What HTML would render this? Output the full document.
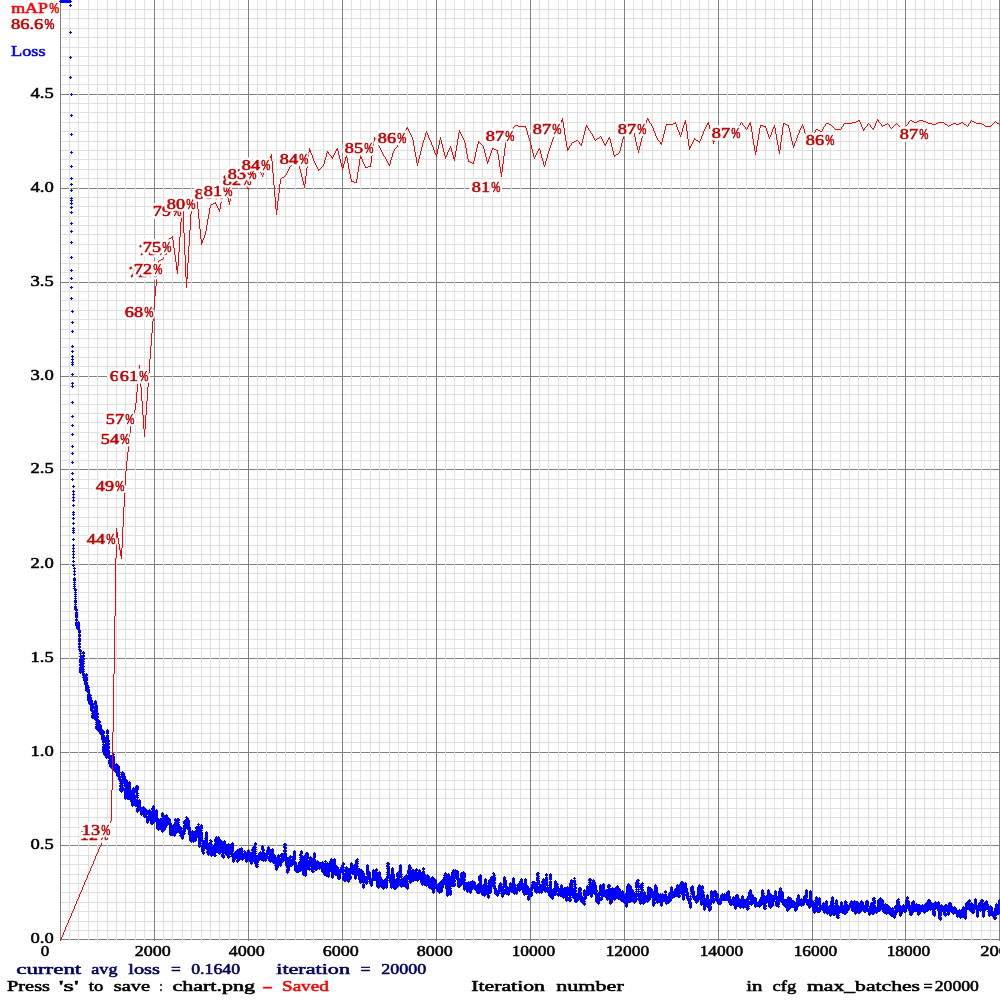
<!DOCTYPE html><html><head><meta charset="utf-8"><title>chart</title><style>html,body{margin:0;padding:0;background:#fff}svg{display:block}</style></head><body><svg width="1000" height="1000" viewBox="0 0 1000 1000" shape-rendering="crispEdges"><rect width="1000" height="1000" fill="#fff"/>
<path fill="#e0e0e0" d="M60 9h940v1h-940zM60 18h940v1h-940zM60 28h940v1h-940zM60 37h940v1h-940zM60 47h940v1h-940zM60 56h940v1h-940zM60 65h940v1h-940zM60 75h940v1h-940zM60 84h940v1h-940zM60 103h940v1h-940zM60 112h940v1h-940zM60 122h940v1h-940zM60 131h940v1h-940zM60 141h940v1h-940zM60 150h940v1h-940zM60 159h940v1h-940zM60 169h940v1h-940zM60 178h940v1h-940zM60 197h940v1h-940zM60 206h940v1h-940zM60 216h940v1h-940zM60 225h940v1h-940zM60 234h940v1h-940zM60 244h940v1h-940zM60 253h940v1h-940zM60 263h940v1h-940zM60 272h940v1h-940zM60 291h940v1h-940zM60 300h940v1h-940zM60 310h940v1h-940zM60 319h940v1h-940zM60 329h940v1h-940zM60 338h940v1h-940zM60 347h940v1h-940zM60 357h940v1h-940zM60 366h940v1h-940zM60 385h940v1h-940zM60 394h940v1h-940zM60 404h940v1h-940zM60 413h940v1h-940zM60 422h940v1h-940zM60 432h940v1h-940zM60 441h940v1h-940zM60 451h940v1h-940zM60 460h940v1h-940zM60 479h940v1h-940zM60 488h940v1h-940zM60 498h940v1h-940zM60 507h940v1h-940zM60 517h940v1h-940zM60 526h940v1h-940zM60 535h940v1h-940zM60 545h940v1h-940zM60 554h940v1h-940zM60 573h940v1h-940zM60 582h940v1h-940zM60 592h940v1h-940zM60 601h940v1h-940zM60 611h940v1h-940zM60 620h940v1h-940zM60 629h940v1h-940zM60 639h940v1h-940zM60 648h940v1h-940zM60 667h940v1h-940zM60 676h940v1h-940zM60 686h940v1h-940zM60 695h940v1h-940zM60 705h940v1h-940zM60 714h940v1h-940zM60 723h940v1h-940zM60 733h940v1h-940zM60 742h940v1h-940zM60 761h940v1h-940zM60 770h940v1h-940zM60 780h940v1h-940zM60 789h940v1h-940zM60 798h940v1h-940zM60 808h940v1h-940zM60 817h940v1h-940zM60 827h940v1h-940zM60 836h940v1h-940zM60 855h940v1h-940zM60 864h940v1h-940zM60 874h940v1h-940zM60 883h940v1h-940zM60 892h940v1h-940zM60 902h940v1h-940zM60 911h940v1h-940zM60 921h940v1h-940zM60 930h940v1h-940z"/>
<path fill="#808080" d="M60 94h940v1h-940zM60 188h940v1h-940zM60 282h940v1h-940zM60 376h940v1h-940zM60 469h940v1h-940zM60 564h940v1h-940zM60 658h940v1h-940zM60 752h940v1h-940zM60 845h940v1h-940zM60 939h940v1h-940z"/>
<path fill="#e0e0e0" d="M69 0h1v941h-1zM78 0h1v941h-1zM88 0h1v941h-1zM97 0h1v941h-1zM107 0h1v941h-1zM116 0h1v941h-1zM125 0h1v941h-1zM135 0h1v941h-1zM144 0h1v941h-1zM163 0h1v941h-1zM172 0h1v941h-1zM182 0h1v941h-1zM191 0h1v941h-1zM201 0h1v941h-1zM210 0h1v941h-1zM219 0h1v941h-1zM229 0h1v941h-1zM238 0h1v941h-1zM257 0h1v941h-1zM266 0h1v941h-1zM276 0h1v941h-1zM285 0h1v941h-1zM295 0h1v941h-1zM304 0h1v941h-1zM313 0h1v941h-1zM323 0h1v941h-1zM332 0h1v941h-1zM351 0h1v941h-1zM360 0h1v941h-1zM370 0h1v941h-1zM379 0h1v941h-1zM389 0h1v941h-1zM398 0h1v941h-1zM407 0h1v941h-1zM417 0h1v941h-1zM426 0h1v941h-1zM445 0h1v941h-1zM454 0h1v941h-1zM464 0h1v941h-1zM473 0h1v941h-1zM482 0h1v941h-1zM492 0h1v941h-1zM501 0h1v941h-1zM511 0h1v941h-1zM520 0h1v941h-1zM539 0h1v941h-1zM548 0h1v941h-1zM558 0h1v941h-1zM567 0h1v941h-1zM577 0h1v941h-1zM586 0h1v941h-1zM595 0h1v941h-1zM605 0h1v941h-1zM614 0h1v941h-1zM633 0h1v941h-1zM642 0h1v941h-1zM652 0h1v941h-1zM661 0h1v941h-1zM671 0h1v941h-1zM680 0h1v941h-1zM689 0h1v941h-1zM699 0h1v941h-1zM708 0h1v941h-1zM727 0h1v941h-1zM736 0h1v941h-1zM746 0h1v941h-1zM755 0h1v941h-1zM765 0h1v941h-1zM774 0h1v941h-1zM783 0h1v941h-1zM793 0h1v941h-1zM802 0h1v941h-1zM821 0h1v941h-1zM830 0h1v941h-1zM840 0h1v941h-1zM849 0h1v941h-1zM858 0h1v941h-1zM868 0h1v941h-1zM877 0h1v941h-1zM887 0h1v941h-1zM896 0h1v941h-1zM915 0h1v941h-1zM924 0h1v941h-1zM934 0h1v941h-1zM943 0h1v941h-1zM952 0h1v941h-1zM962 0h1v941h-1zM971 0h1v941h-1zM981 0h1v941h-1zM990 0h1v941h-1z"/>
<path fill="#808080" d="M60 0h1v941h-1zM154 0h1v941h-1zM248 0h1v941h-1zM342 0h1v941h-1zM436 0h1v941h-1zM530 0h1v941h-1zM624 0h1v941h-1zM718 0h1v941h-1zM812 0h1v941h-1zM905 0h1v941h-1zM999 0h1v941h-1z"/>
<g font-family="'Liberation Serif',serif" font-size="15px" stroke-width=".55" stroke-linejoin="round"><text x="30.5" y="98" fill="#000" stroke="#000" textLength="23.2" lengthAdjust="spacingAndGlyphs" font-size="15.5px">4.5</text><text x="30.5" y="192" fill="#000" stroke="#000" textLength="23.2" lengthAdjust="spacingAndGlyphs" font-size="15.5px">4.0</text><text x="30.5" y="286" fill="#000" stroke="#000" textLength="23.2" lengthAdjust="spacingAndGlyphs" font-size="15.5px">3.5</text><text x="30.5" y="380" fill="#000" stroke="#000" textLength="23.2" lengthAdjust="spacingAndGlyphs" font-size="15.5px">3.0</text><text x="30.5" y="473" fill="#000" stroke="#000" textLength="23.2" lengthAdjust="spacingAndGlyphs" font-size="15.5px">2.5</text><text x="30.5" y="568" fill="#000" stroke="#000" textLength="23.2" lengthAdjust="spacingAndGlyphs" font-size="15.5px">2.0</text><text x="30.5" y="662" fill="#000" stroke="#000" textLength="23.2" lengthAdjust="spacingAndGlyphs" font-size="15.5px">1.5</text><text x="30.5" y="756" fill="#000" stroke="#000" textLength="23.2" lengthAdjust="spacingAndGlyphs" font-size="15.5px">1.0</text><text x="30.5" y="849" fill="#000" stroke="#000" textLength="23.2" lengthAdjust="spacingAndGlyphs" font-size="15.5px">0.5</text><text x="30.5" y="943" fill="#000" stroke="#000" textLength="23.2" lengthAdjust="spacingAndGlyphs" font-size="15.5px">0.0</text><text x="40.8" y="956" fill="#000" stroke="#000" textLength="8.5" lengthAdjust="spacingAndGlyphs" font-size="15.5px">0</text><text x="134.7" y="956" fill="#000" stroke="#000" textLength="36" lengthAdjust="spacingAndGlyphs" font-size="15.5px">2000</text><text x="228.7" y="956" fill="#000" stroke="#000" textLength="36" lengthAdjust="spacingAndGlyphs" font-size="15.5px">4000</text><text x="322.7" y="956" fill="#000" stroke="#000" textLength="36" lengthAdjust="spacingAndGlyphs" font-size="15.5px">6000</text><text x="416.7" y="956" fill="#000" stroke="#000" textLength="36" lengthAdjust="spacingAndGlyphs" font-size="15.5px">8000</text><text x="511.7" y="956" fill="#000" stroke="#000" textLength="43.4" lengthAdjust="spacingAndGlyphs" font-size="15.5px">10000</text><text x="605.7" y="956" fill="#000" stroke="#000" textLength="43.4" lengthAdjust="spacingAndGlyphs" font-size="15.5px">12000</text><text x="699.7" y="956" fill="#000" stroke="#000" textLength="43.4" lengthAdjust="spacingAndGlyphs" font-size="15.5px">14000</text><text x="793.7" y="956" fill="#000" stroke="#000" textLength="43.4" lengthAdjust="spacingAndGlyphs" font-size="15.5px">16000</text><text x="886.7" y="956" fill="#000" stroke="#000" textLength="43.4" lengthAdjust="spacingAndGlyphs" font-size="15.5px">18000</text><text x="980.2" y="956" fill="#000" stroke="#000" textLength="46.5" lengthAdjust="spacingAndGlyphs" font-size="15.5px">20000</text><text y="13" fill="#ff0000" stroke="#ff0000"><tspan x="11.2" textLength="36.8" lengthAdjust="spacingAndGlyphs">mAP</tspan><tspan x="49.2" textLength="10" lengthAdjust="spacingAndGlyphs">%</tspan></text><text x="11" y="56" fill="#0000ff" stroke="#0000ff" textLength="34.5" lengthAdjust="spacingAndGlyphs">Loss</text><text y="974" fill="#000064" stroke="#000064"><tspan x="16.25" textLength="65.0" lengthAdjust="spacingAndGlyphs">current</tspan> <tspan x="91.25" textLength="26.25" lengthAdjust="spacingAndGlyphs">avg</tspan> <tspan x="128.25" textLength="31.75" lengthAdjust="spacingAndGlyphs">loss</tspan> <tspan x="171" textLength="9.8" lengthAdjust="spacingAndGlyphs">=</tspan> <tspan x="191.25" textLength="48.75" lengthAdjust="spacingAndGlyphs">0.1640</tspan> <tspan x="276.25" textLength="73.75" lengthAdjust="spacingAndGlyphs">iteration</tspan> <tspan x="360.5" textLength="10.0" lengthAdjust="spacingAndGlyphs">=</tspan> <tspan x="381.25" textLength="45.0" lengthAdjust="spacingAndGlyphs">20000</tspan></text><text y="991" fill="#000" stroke="#000"><tspan x="7" textLength="43" lengthAdjust="spacingAndGlyphs">Press</tspan> <tspan x="58.75" textLength="20.0" lengthAdjust="spacingAndGlyphs">'s'</tspan> <tspan x="88.75" textLength="14.5" lengthAdjust="spacingAndGlyphs">to</tspan> <tspan x="113.75" textLength="36.25" lengthAdjust="spacingAndGlyphs">save</tspan> <tspan x="159.5" textLength="3.0" lengthAdjust="spacingAndGlyphs">:</tspan> <tspan x="172.5" textLength="82.5" lengthAdjust="spacingAndGlyphs">chart.png</tspan></text><text y="991" fill="#ff0000" stroke="#ff0000"><tspan x="262.5" textLength="10" lengthAdjust="spacingAndGlyphs">-</tspan> <tspan x="282" textLength="46.75" lengthAdjust="spacingAndGlyphs">Saved</tspan></text><text y="991" fill="#000" stroke="#000"><tspan x="471.25" textLength="73.75" lengthAdjust="spacingAndGlyphs">Iteration</tspan> <tspan x="556.25" textLength="67.5" lengthAdjust="spacingAndGlyphs">number</tspan></text><text y="991" fill="#000" stroke="#000"><tspan x="746.25" textLength="16.25" lengthAdjust="spacingAndGlyphs">in</tspan> <tspan x="772.5" textLength="23.75" lengthAdjust="spacingAndGlyphs">cfg</tspan> <tspan x="807" textLength="113" lengthAdjust="spacingAndGlyphs">max_batches</tspan><tspan x="923.5" textLength="9.2" lengthAdjust="spacingAndGlyphs">=</tspan><tspan x="934.8" textLength="44.1" lengthAdjust="spacingAndGlyphs">20000</tspan></text></g>
<path fill="#0000ff" d="M59 1h1v1h-1zM60 0h1v3h-1zM61 0h1v3h-1zM62 0h1v3h-1zM63 0h1v3h-1zM64 0h1v3h-1zM65 0h1v3h-1zM66 0h1v3h-1zM67 0h1v3h-1zM68 0h1v3h-1zM69 0h1v3h-1zM69 5h1v1h-1zM69 32h1v1h-1zM69 57h1v1h-1zM69 77h1v1h-1zM70 0h1v3h-1zM70 4h1v3h-1zM70 31h1v3h-1zM70 56h1v3h-1zM70 76h1v3h-1zM70 94h1v1h-1zM70 115h1v1h-1zM70 134h1v1h-1zM70 152h1v1h-1zM70 166h1v1h-1zM70 178h1v1h-1zM70 184h1v1h-1zM70 190h1v1h-1zM70 198h1v1h-1zM70 200h1v1h-1zM70 203h1v1h-1zM70 207h1v1h-1zM70 212h1v1h-1zM70 223h1v1h-1zM70 231h1v1h-1zM70 242h1v1h-1zM70 257h1v1h-1zM70 270h1v1h-1zM70 278h1v1h-1zM70 287h1v1h-1zM70 298h1v1h-1zM71 1h1v1h-1zM71 5h1v1h-1zM71 32h1v1h-1zM71 57h1v1h-1zM71 77h1v1h-1zM71 93h1v3h-1zM71 114h1v3h-1zM71 133h1v3h-1zM71 151h1v3h-1zM71 165h1v3h-1zM71 177h1v3h-1zM71 183h1v3h-1zM71 189h1v3h-1zM71 197h1v8h-1zM71 206h1v3h-1zM71 211h1v3h-1zM71 222h1v3h-1zM71 230h1v3h-1zM71 241h1v3h-1zM71 256h1v3h-1zM71 269h1v3h-1zM71 277h1v3h-1zM71 286h1v3h-1zM71 297h1v3h-1zM71 311h1v1h-1zM71 322h1v1h-1zM71 331h1v1h-1zM71 346h1v1h-1zM71 351h1v1h-1zM71 356h1v1h-1zM71 359h1v1h-1zM71 362h1v1h-1zM71 364h1v1h-1zM71 374h1v1h-1zM71 383h1v1h-1zM71 386h1v1h-1zM71 402h1v1h-1zM71 416h1v1h-1zM71 425h1v1h-1zM71 434h1v1h-1zM71 446h1v1h-1zM71 453h1v1h-1zM71 462h1v1h-1zM71 473h1v1h-1zM71 479h1v1h-1zM72 94h1v1h-1zM72 115h1v1h-1zM72 134h1v1h-1zM72 152h1v1h-1zM72 166h1v1h-1zM72 178h1v1h-1zM72 184h1v1h-1zM72 190h1v1h-1zM72 198h1v1h-1zM72 200h1v1h-1zM72 203h1v1h-1zM72 207h1v1h-1zM72 212h1v1h-1zM72 223h1v1h-1zM72 231h1v1h-1zM72 242h1v1h-1zM72 257h1v1h-1zM72 270h1v1h-1zM72 278h1v1h-1zM72 287h1v1h-1zM72 298h1v1h-1zM72 310h1v3h-1zM72 321h1v3h-1zM72 330h1v3h-1zM72 345h1v3h-1zM72 350h1v3h-1zM72 355h1v11h-1zM72 373h1v3h-1zM72 382h1v6h-1zM72 401h1v3h-1zM72 415h1v3h-1zM72 424h1v3h-1zM72 433h1v3h-1zM72 445h1v3h-1zM72 452h1v3h-1zM72 461h1v3h-1zM72 472h1v3h-1zM72 478h1v3h-1zM72 486h1v1h-1zM72 491h1v1h-1zM72 494h1v1h-1zM72 497h1v1h-1zM72 500h1v1h-1zM72 505h1v1h-1zM72 512h1v1h-1zM72 514h1v1h-1zM72 518h1v1h-1zM72 523h1v1h-1zM72 528h1v1h-1zM72 530h1v1h-1zM72 532h1v1h-1zM72 539h1v1h-1zM72 545h1v1h-1zM72 548h1v1h-1zM72 551h1v1h-1zM72 554h1v1h-1zM72 557h1v1h-1zM72 561h1v1h-1zM72 565h1v1h-1zM73 311h1v1h-1zM73 322h1v1h-1zM73 331h1v1h-1zM73 346h1v1h-1zM73 351h1v1h-1zM73 356h1v1h-1zM73 359h1v1h-1zM73 362h1v1h-1zM73 364h1v1h-1zM73 374h1v1h-1zM73 383h1v1h-1zM73 386h1v1h-1zM73 402h1v1h-1zM73 416h1v1h-1zM73 425h1v1h-1zM73 434h1v1h-1zM73 446h1v1h-1zM73 453h1v1h-1zM73 462h1v1h-1zM73 473h1v1h-1zM73 479h1v1h-1zM73 485h1v3h-1zM73 490h1v12h-1zM73 504h1v3h-1zM73 511h1v5h-1zM73 517h1v3h-1zM73 522h1v3h-1zM73 527h1v7h-1zM73 538h1v3h-1zM73 544h1v15h-1zM73 560h1v3h-1zM73 564h1v3h-1zM73 568h1v1h-1zM73 571h1v1h-1zM73 574h1v1h-1zM73 578h1v3h-1zM73 582h1v1h-1zM73 584h1v1h-1zM73 586h1v1h-1zM73 588h1v1h-1zM74 486h1v1h-1zM74 491h1v1h-1zM74 494h1v1h-1zM74 497h1v1h-1zM74 500h1v1h-1zM74 505h1v1h-1zM74 512h1v1h-1zM74 514h1v1h-1zM74 518h1v1h-1zM74 523h1v1h-1zM74 528h1v1h-1zM74 530h1v1h-1zM74 532h1v1h-1zM74 539h1v1h-1zM74 545h1v1h-1zM74 548h1v1h-1zM74 551h1v1h-1zM74 554h1v1h-1zM74 557h1v1h-1zM74 561h1v1h-1zM74 565h1v1h-1zM74 567h1v9h-1zM74 577h1v14h-1zM74 592h1v1h-1zM74 594h1v1h-1zM74 596h1v1h-1zM74 598h1v1h-1zM74 600h1v3h-1zM74 604h1v1h-1zM74 606h1v4h-1zM75 568h1v1h-1zM75 571h1v1h-1zM75 574h1v1h-1zM75 578h1v3h-1zM75 582h1v1h-1zM75 584h1v1h-1zM75 586h1v1h-1zM75 588h1v23h-1zM75 612h1v6h-1zM75 619h1v2h-1zM75 622h1v4h-1zM76 589h1v2h-1zM76 592h1v1h-1zM76 594h1v1h-1zM76 596h1v1h-1zM76 598h1v1h-1zM76 600h1v3h-1zM76 604h1v1h-1zM76 606h1v23h-1zM77 609h1v2h-1zM77 612h1v6h-1zM77 619h1v2h-1zM77 622h1v8h-1zM78 621h1v12h-1zM78 634h1v3h-1zM78 638h1v4h-1zM78 643h1v2h-1zM78 646h1v2h-1zM78 649h1v1h-1zM79 622h1v30h-1zM79 653h1v1h-1zM79 656h1v1h-1zM79 659h1v4h-1zM79 664h1v2h-1zM79 667h1v6h-1zM80 630h1v3h-1zM80 634h1v3h-1zM80 638h1v4h-1zM80 643h1v2h-1zM80 646h1v2h-1zM80 649h1v25h-1zM81 650h1v2h-1zM81 653h1v1h-1zM81 655h1v18h-1zM82 652h1v2h-1zM82 655h1v21h-1zM82 677h1v1h-1zM83 651h1v30h-1zM84 652h1v2h-1zM84 655h1v2h-1zM84 658h1v2h-1zM84 661h1v1h-1zM84 663h1v1h-1zM84 666h1v1h-1zM84 669h1v1h-1zM84 671h1v1h-1zM84 673h1v12h-1zM85 674h1v17h-1zM86 673h1v19h-1zM87 674h1v2h-1zM87 677h1v4h-1zM87 682h1v11h-1zM87 694h1v7h-1zM88 685h1v19h-1zM89 687h1v1h-1zM89 689h1v16h-1zM90 694h1v17h-1zM91 695h1v1h-1zM91 697h1v15h-1zM91 713h1v1h-1zM91 715h1v3h-1zM92 700h1v19h-1zM93 703h1v6h-1zM93 710h1v9h-1zM94 701h1v4h-1zM94 706h1v14h-1zM95 700h1v21h-1zM95 722h1v1h-1zM95 724h1v1h-1zM95 726h1v3h-1zM96 701h1v29h-1zM97 705h1v26h-1zM98 713h1v2h-1zM98 716h1v2h-1zM98 719h1v13h-1zM99 720h1v14h-1zM100 721h1v2h-1zM100 724h1v11h-1zM101 725h1v15h-1zM102 729h1v14h-1zM102 744h1v1h-1zM102 746h1v6h-1zM103 730h1v25h-1zM104 731h1v3h-1zM104 735h1v8h-1zM104 744h1v12h-1zM105 737h1v21h-1zM106 730h1v4h-1zM106 735h1v24h-1zM107 729h1v29h-1zM108 730h1v4h-1zM108 735h1v24h-1zM108 760h1v4h-1zM109 740h1v2h-1zM109 743h1v2h-1zM109 746h1v3h-1zM109 750h1v17h-1zM110 755h1v13h-1zM111 755h1v14h-1zM112 754h1v1h-1zM112 756h1v14h-1zM113 753h1v18h-1zM114 754h1v1h-1zM114 756h1v16h-1zM115 764h1v9h-1zM116 763h1v13h-1zM117 764h1v13h-1zM118 765h1v15h-1zM119 766h1v16h-1zM119 783h1v1h-1zM119 785h1v2h-1zM119 788h1v3h-1zM120 772h1v1h-1zM120 774h1v1h-1zM120 776h1v16h-1zM121 772h1v6h-1zM121 779h1v14h-1zM122 771h1v21h-1zM123 772h1v12h-1zM123 785h1v1h-1zM123 787h1v4h-1zM124 773h1v14h-1zM124 788h1v11h-1zM125 776h1v24h-1zM126 779h1v20h-1zM127 780h1v20h-1zM128 782h1v18h-1zM129 781h1v19h-1zM130 782h1v20h-1zM131 790h1v16h-1zM132 788h1v19h-1zM133 787h1v19h-1zM134 788h1v18h-1zM135 786h1v7h-1zM135 795h1v12h-1zM136 785h1v13h-1zM136 799h1v8h-1zM136 808h1v4h-1zM137 785h1v28h-1zM138 786h1v4h-1zM138 793h1v1h-1zM138 795h1v1h-1zM138 797h1v1h-1zM138 800h1v12h-1zM139 799h1v12h-1zM140 800h1v15h-1zM141 807h1v9h-1zM142 807h1v8h-1zM143 806h1v11h-1zM144 807h1v11h-1zM145 808h1v10h-1zM146 809h1v14h-1zM147 810h1v5h-1zM147 816h1v8h-1zM148 810h1v13h-1zM149 809h1v12h-1zM150 810h1v14h-1zM151 808h1v2h-1zM151 811h1v14h-1zM152 806h1v19h-1zM153 805h1v19h-1zM154 806h1v17h-1zM155 810h1v12h-1zM156 809h1v20h-1zM157 810h1v20h-1zM158 818h1v13h-1zM159 819h1v11h-1zM160 818h1v12h-1zM161 813h1v4h-1zM161 818h1v14h-1zM162 812h1v21h-1zM163 813h1v19h-1zM164 815h1v16h-1zM165 815h1v15h-1zM166 814h1v14h-1zM167 815h1v11h-1zM168 817h1v8h-1zM169 818h1v17h-1zM170 819h1v17h-1zM171 823h1v13h-1zM172 825h1v11h-1zM173 824h1v12h-1zM174 819h1v2h-1zM174 822h1v15h-1zM175 818h1v18h-1zM176 819h1v15h-1zM177 818h1v15h-1zM178 818h1v15h-1zM179 819h1v2h-1zM179 822h1v1h-1zM179 824h1v10h-1zM179 835h1v1h-1zM180 826h1v11h-1zM181 827h1v12h-1zM182 828h1v1h-1zM182 830h1v10h-1zM183 821h1v3h-1zM183 825h1v14h-1zM184 820h1v15h-1zM185 817h1v1h-1zM185 819h1v13h-1zM185 833h1v1h-1zM186 816h1v13h-1zM187 817h1v13h-1zM188 818h1v17h-1zM189 820h1v21h-1zM190 827h1v15h-1zM191 831h1v12h-1zM192 830h1v12h-1zM193 831h1v12h-1zM194 831h1v11h-1zM195 827h1v2h-1zM195 830h1v12h-1zM196 826h1v15h-1zM197 824h1v1h-1zM197 826h1v12h-1zM198 823h1v24h-1zM199 824h1v1h-1zM199 826h1v22h-1zM200 825h1v22h-1zM201 824h1v18h-1zM201 843h1v1h-1zM201 845h1v7h-1zM202 825h1v4h-1zM202 830h1v1h-1zM202 832h1v22h-1zM203 840h1v15h-1zM204 838h1v1h-1zM204 840h1v11h-1zM204 852h1v2h-1zM205 832h1v17h-1zM206 831h1v19h-1zM206 851h1v2h-1zM207 832h1v23h-1zM208 843h1v13h-1zM209 840h1v1h-1zM209 842h1v13h-1zM210 839h1v17h-1zM211 840h1v17h-1zM212 841h1v1h-1zM212 844h1v1h-1zM212 846h1v10h-1zM213 845h1v11h-1zM214 839h1v3h-1zM214 843h1v14h-1zM215 837h1v20h-1zM216 836h1v17h-1zM216 855h1v1h-1zM217 837h1v16h-1zM218 836h1v18h-1zM219 837h1v18h-1zM220 839h1v15h-1zM221 840h1v13h-1zM221 854h1v3h-1zM222 841h1v17h-1zM223 841h1v18h-1zM224 840h1v14h-1zM224 855h1v3h-1zM225 841h1v14h-1zM226 844h1v12h-1zM227 844h1v14h-1zM228 843h1v16h-1zM229 844h1v14h-1zM230 844h1v11h-1zM230 856h1v1h-1zM231 843h1v14h-1zM232 842h1v20h-1zM233 843h1v9h-1zM233 853h1v10h-1zM234 852h1v10h-1zM235 851h1v9h-1zM236 850h1v9h-1zM236 860h1v2h-1zM237 849h1v14h-1zM238 849h1v13h-1zM239 848h1v13h-1zM240 848h1v12h-1zM241 847h1v13h-1zM242 848h1v13h-1zM243 851h1v1h-1zM243 853h1v7h-1zM244 850h1v9h-1zM245 851h1v11h-1zM246 852h1v11h-1zM247 850h1v12h-1zM248 849h1v12h-1zM249 850h1v12h-1zM250 852h1v12h-1zM251 849h1v2h-1zM251 852h1v13h-1zM252 847h1v17h-1zM253 846h1v16h-1zM254 843h1v21h-1zM255 842h1v25h-1zM256 843h1v2h-1zM256 847h1v1h-1zM256 849h1v1h-1zM256 851h1v1h-1zM256 853h1v1h-1zM256 855h1v13h-1zM257 855h1v13h-1zM258 853h1v10h-1zM258 864h1v1h-1zM258 866h1v1h-1zM259 852h1v9h-1zM260 851h1v9h-1zM261 846h1v4h-1zM261 852h1v9h-1zM262 845h1v16h-1zM263 846h1v16h-1zM264 849h1v2h-1zM264 852h1v9h-1zM265 853h1v9h-1zM266 850h1v11h-1zM267 847h1v12h-1zM268 846h1v9h-1zM268 856h1v5h-1zM269 847h1v15h-1zM270 849h1v14h-1zM271 849h1v13h-1zM272 848h1v15h-1zM273 849h1v15h-1zM274 854h1v10h-1zM274 865h1v1h-1zM275 855h1v15h-1zM276 857h1v14h-1zM277 855h1v15h-1zM278 854h1v14h-1zM279 855h1v11h-1zM280 854h1v3h-1zM280 858h1v9h-1zM281 853h1v13h-1zM282 853h1v10h-1zM283 844h1v1h-1zM283 846h1v2h-1zM283 850h1v2h-1zM283 853h1v9h-1zM284 843h1v18h-1zM285 843h1v23h-1zM286 844h1v2h-1zM286 847h1v2h-1zM286 850h1v2h-1zM286 853h1v15h-1zM286 869h1v4h-1zM287 857h1v17h-1zM288 857h1v16h-1zM289 856h1v15h-1zM290 855h1v12h-1zM291 856h1v2h-1zM291 859h1v8h-1zM292 856h1v10h-1zM293 851h1v14h-1zM294 850h1v21h-1zM295 851h1v9h-1zM295 861h1v11h-1zM296 862h1v11h-1zM297 865h1v8h-1zM298 862h1v11h-1zM299 854h1v2h-1zM299 857h1v1h-1zM299 859h1v1h-1zM299 861h1v11h-1zM300 851h1v21h-1zM301 850h1v21h-1zM302 851h1v3h-1zM302 855h1v20h-1zM303 856h1v20h-1zM304 855h1v21h-1zM305 853h1v24h-1zM306 852h1v24h-1zM307 852h1v18h-1zM308 853h1v6h-1zM308 860h1v10h-1zM309 857h1v14h-1zM310 856h1v11h-1zM310 868h1v2h-1zM311 857h1v15h-1zM312 858h1v15h-1zM313 853h1v20h-1zM314 852h1v18h-1zM314 871h1v1h-1zM315 853h1v5h-1zM315 859h1v12h-1zM316 861h1v10h-1zM317 860h1v10h-1zM318 861h1v8h-1zM319 862h1v8h-1zM320 862h1v7h-1zM321 862h1v10h-1zM322 861h1v12h-1zM323 862h1v13h-1zM324 861h1v1h-1zM324 863h1v13h-1zM325 860h1v16h-1zM326 861h1v1h-1zM326 863h1v14h-1zM327 862h1v15h-1zM328 863h1v15h-1zM329 861h1v16h-1zM330 859h1v13h-1zM331 858h1v20h-1zM332 859h1v20h-1zM333 859h1v19h-1zM334 858h1v17h-1zM335 859h1v17h-1zM336 865h1v11h-1zM337 866h1v13h-1zM338 867h1v13h-1zM339 869h1v11h-1zM340 867h1v12h-1zM341 865h1v8h-1zM342 863h1v12h-1zM342 876h1v4h-1zM343 862h1v19h-1zM344 863h1v2h-1zM344 867h1v1h-1zM344 869h1v3h-1zM344 873h1v9h-1zM345 867h1v15h-1zM346 866h1v15h-1zM347 867h1v15h-1zM348 868h1v15h-1zM349 868h1v14h-1zM350 863h1v17h-1zM351 862h1v12h-1zM351 876h1v3h-1zM352 863h1v12h-1zM353 865h1v10h-1zM354 864h1v15h-1zM355 860h1v20h-1zM356 859h1v20h-1zM357 858h1v18h-1zM358 859h1v1h-1zM358 861h1v1h-1zM358 863h1v1h-1zM358 866h1v1h-1zM358 868h1v12h-1zM359 868h1v15h-1zM360 869h1v15h-1zM361 869h1v14h-1zM362 870h1v13h-1zM362 884h1v4h-1zM363 871h1v18h-1zM364 873h1v10h-1zM364 884h1v4h-1zM365 876h1v8h-1zM366 865h1v10h-1zM366 876h1v9h-1zM367 864h1v20h-1zM368 865h1v15h-1zM368 881h1v1h-1zM369 871h1v13h-1zM370 872h1v14h-1zM371 878h1v9h-1zM372 870h1v16h-1zM373 869h1v12h-1zM374 870h1v11h-1zM375 869h1v12h-1zM376 868h1v19h-1zM377 869h1v2h-1zM377 872h1v16h-1zM378 872h1v17h-1zM379 871h1v17h-1zM380 872h1v15h-1zM381 877h1v11h-1zM382 879h1v10h-1zM383 880h1v10h-1zM384 879h1v10h-1zM385 878h1v10h-1zM386 863h1v1h-1zM386 865h1v2h-1zM386 868h1v1h-1zM386 872h1v1h-1zM386 874h1v1h-1zM386 876h1v13h-1zM387 862h1v26h-1zM388 862h1v17h-1zM388 880h1v1h-1zM389 863h1v2h-1zM389 866h1v17h-1zM390 874h1v14h-1zM391 868h1v21h-1zM392 867h1v21h-1zM393 868h1v21h-1zM394 874h1v16h-1zM395 879h1v11h-1zM396 873h1v4h-1zM396 878h1v11h-1zM397 872h1v16h-1zM398 871h1v16h-1zM399 865h1v21h-1zM400 864h1v14h-1zM400 879h1v8h-1zM401 865h1v23h-1zM402 874h1v1h-1zM402 876h1v1h-1zM402 878h1v9h-1zM403 877h1v10h-1zM404 876h1v11h-1zM405 875h1v13h-1zM406 874h1v15h-1zM407 870h1v4h-1zM407 875h1v15h-1zM408 865h1v15h-1zM408 881h1v1h-1zM408 883h1v6h-1zM409 864h1v19h-1zM410 865h1v19h-1zM411 867h1v2h-1zM411 870h1v13h-1zM412 869h1v13h-1zM413 869h1v13h-1zM414 870h1v11h-1zM415 869h1v12h-1zM416 868h1v13h-1zM417 869h1v2h-1zM417 872h1v10h-1zM418 870h1v11h-1zM419 869h1v11h-1zM420 870h1v13h-1zM421 872h1v13h-1zM422 868h1v2h-1zM422 871h1v15h-1zM423 867h1v18h-1zM424 868h1v2h-1zM424 871h1v15h-1zM425 874h1v12h-1zM426 875h1v12h-1zM427 874h1v12h-1zM428 875h1v13h-1zM429 876h1v13h-1zM430 878h1v11h-1zM431 877h1v13h-1zM432 876h1v17h-1zM433 877h1v17h-1zM434 878h1v15h-1zM435 879h1v10h-1zM436 880h1v11h-1zM437 884h1v8h-1zM438 883h1v10h-1zM439 882h1v12h-1zM440 881h1v12h-1zM441 880h1v13h-1zM442 879h1v13h-1zM443 875h1v1h-1zM443 877h1v11h-1zM444 873h1v12h-1zM445 872h1v17h-1zM446 873h1v23h-1zM447 874h1v23h-1zM448 873h1v23h-1zM449 874h1v21h-1zM450 876h1v20h-1zM451 872h1v15h-1zM451 888h1v1h-1zM451 890h1v5h-1zM452 870h1v17h-1zM453 869h1v18h-1zM454 870h1v17h-1zM455 869h1v10h-1zM455 880h1v2h-1zM455 883h1v3h-1zM456 870h1v10h-1zM457 870h1v17h-1zM458 871h1v17h-1zM459 878h1v10h-1zM460 873h1v14h-1zM461 872h1v14h-1zM462 872h1v13h-1zM463 871h1v19h-1zM464 872h1v19h-1zM465 873h1v5h-1zM465 879h1v2h-1zM465 882h1v8h-1zM466 882h1v10h-1zM467 882h1v11h-1zM468 881h1v11h-1zM469 882h1v11h-1zM470 881h1v13h-1zM471 881h1v12h-1zM472 880h1v10h-1zM473 881h1v8h-1zM474 881h1v9h-1zM475 882h1v9h-1zM476 885h1v8h-1zM477 884h1v10h-1zM478 876h1v5h-1zM478 883h1v11h-1zM479 875h1v19h-1zM480 874h1v19h-1zM481 875h1v20h-1zM482 885h1v11h-1zM483 884h1v12h-1zM484 879h1v18h-1zM485 878h1v18h-1zM486 879h1v16h-1zM487 883h1v1h-1zM487 885h1v13h-1zM488 880h1v19h-1zM489 879h1v15h-1zM489 895h1v3h-1zM490 877h1v17h-1zM491 876h1v17h-1zM492 873h1v1h-1zM492 876h1v11h-1zM493 872h1v17h-1zM494 873h1v21h-1zM495 875h1v1h-1zM495 877h1v4h-1zM495 882h1v2h-1zM495 885h1v10h-1zM496 888h1v8h-1zM497 890h1v7h-1zM498 885h1v11h-1zM499 883h1v11h-1zM500 882h1v10h-1zM500 893h1v1h-1zM501 883h1v14h-1zM502 884h1v1h-1zM502 886h1v12h-1zM503 877h1v20h-1zM504 876h1v12h-1zM504 889h1v6h-1zM505 877h1v17h-1zM506 880h1v15h-1zM507 886h1v9h-1zM508 887h1v9h-1zM509 883h1v12h-1zM510 882h1v10h-1zM511 883h1v10h-1zM512 878h1v15h-1zM513 877h1v17h-1zM514 878h1v17h-1zM515 884h1v10h-1zM516 885h1v1h-1zM516 887h1v8h-1zM517 884h1v10h-1zM518 883h1v8h-1zM519 881h1v11h-1zM520 879h1v12h-1zM521 878h1v12h-1zM522 879h1v14h-1zM523 883h1v12h-1zM524 879h1v17h-1zM525 878h1v17h-1zM526 879h1v16h-1zM527 885h1v10h-1zM527 896h1v4h-1zM528 886h1v15h-1zM529 888h1v12h-1zM530 887h1v10h-1zM531 882h1v1h-1zM531 884h1v13h-1zM532 881h1v10h-1zM532 892h1v4h-1zM533 881h1v8h-1zM534 881h1v11h-1zM535 882h1v11h-1zM536 873h1v3h-1zM536 877h1v4h-1zM536 882h1v12h-1zM537 872h1v21h-1zM538 872h1v13h-1zM538 886h1v7h-1zM539 873h1v1h-1zM539 876h1v1h-1zM539 878h1v1h-1zM539 880h1v14h-1zM540 884h1v9h-1zM541 881h1v2h-1zM541 884h1v10h-1zM542 879h1v14h-1zM543 878h1v13h-1zM544 879h1v13h-1zM545 874h1v2h-1zM545 877h1v16h-1zM546 873h1v13h-1zM546 887h1v5h-1zM547 874h1v2h-1zM547 877h1v16h-1zM548 885h1v1h-1zM548 887h1v9h-1zM549 874h1v6h-1zM549 881h1v16h-1zM550 873h1v25h-1zM551 874h1v6h-1zM551 881h1v18h-1zM552 889h1v11h-1zM553 888h1v11h-1zM554 881h1v15h-1zM555 880h1v16h-1zM556 881h1v14h-1zM557 883h1v9h-1zM557 893h1v3h-1zM558 884h1v1h-1zM558 886h1v11h-1zM559 888h1v8h-1zM560 885h1v12h-1zM561 884h1v13h-1zM562 885h1v13h-1zM563 888h1v11h-1zM564 887h1v11h-1zM565 887h1v14h-1zM566 887h1v15h-1zM567 886h1v15h-1zM568 887h1v9h-1zM568 897h1v4h-1zM569 883h1v19h-1zM570 880h1v22h-1zM571 879h1v17h-1zM571 897h1v1h-1zM571 899h1v2h-1zM572 880h1v18h-1zM573 878h1v1h-1zM573 880h1v3h-1zM573 884h1v1h-1zM573 886h1v1h-1zM573 888h1v11h-1zM574 877h1v25h-1zM575 878h1v1h-1zM575 880h1v23h-1zM576 884h1v1h-1zM576 887h1v2h-1zM576 890h1v2h-1zM576 893h1v10h-1zM577 893h1v9h-1zM578 888h1v13h-1zM579 887h1v13h-1zM580 887h1v15h-1zM581 888h1v3h-1zM581 892h1v11h-1zM582 896h1v8h-1zM583 890h1v6h-1zM583 897h1v8h-1zM584 889h1v17h-1zM585 890h1v10h-1zM585 901h1v1h-1zM585 903h1v2h-1zM586 886h1v13h-1zM587 885h1v11h-1zM588 879h1v2h-1zM588 882h1v1h-1zM588 884h1v1h-1zM588 886h1v10h-1zM589 878h1v17h-1zM590 878h1v19h-1zM591 879h1v2h-1zM591 882h1v16h-1zM592 880h1v17h-1zM593 879h1v15h-1zM594 880h1v15h-1zM595 882h1v20h-1zM596 885h1v18h-1zM597 890h1v2h-1zM597 893h1v11h-1zM598 892h1v13h-1zM599 885h1v19h-1zM600 884h1v12h-1zM600 897h1v4h-1zM601 885h1v16h-1zM602 884h1v16h-1zM603 883h1v14h-1zM604 884h1v13h-1zM605 890h1v8h-1zM606 889h1v11h-1zM607 885h1v3h-1zM607 889h1v12h-1zM608 884h1v16h-1zM609 884h1v20h-1zM610 885h1v2h-1zM610 888h1v17h-1zM611 888h1v16h-1zM612 887h1v16h-1zM613 888h1v12h-1zM614 888h1v13h-1zM615 887h1v13h-1zM616 886h1v13h-1zM617 885h1v14h-1zM618 886h1v14h-1zM619 888h1v12h-1zM620 889h1v12h-1zM621 891h1v11h-1zM622 890h1v12h-1zM623 891h1v12h-1zM624 894h1v10h-1zM625 893h1v14h-1zM626 886h1v22h-1zM627 884h1v23h-1zM628 883h1v20h-1zM629 884h1v19h-1zM630 885h1v18h-1zM631 886h1v16h-1zM632 889h1v13h-1zM633 890h1v13h-1zM634 892h1v12h-1zM635 882h1v6h-1zM635 889h1v1h-1zM635 891h1v1h-1zM635 893h1v10h-1zM636 880h1v22h-1zM637 879h1v9h-1zM637 889h1v1h-1zM637 891h1v1h-1zM637 893h1v4h-1zM637 898h1v2h-1zM638 879h1v22h-1zM639 880h1v1h-1zM639 883h1v1h-1zM639 885h1v3h-1zM639 889h1v1h-1zM639 891h1v1h-1zM639 893h1v11h-1zM640 884h1v6h-1zM640 891h1v14h-1zM641 883h1v21h-1zM642 882h1v22h-1zM643 883h1v1h-1zM643 885h1v1h-1zM643 887h1v1h-1zM643 889h1v2h-1zM643 892h1v13h-1zM644 891h1v13h-1zM645 892h1v11h-1zM646 895h1v7h-1zM647 887h1v16h-1zM648 886h1v16h-1zM649 887h1v14h-1zM650 887h1v13h-1zM651 888h1v10h-1zM652 889h1v17h-1zM653 891h1v16h-1zM654 885h1v21h-1zM655 884h1v17h-1zM655 902h1v2h-1zM656 885h1v18h-1zM657 887h1v17h-1zM658 893h1v10h-1zM659 894h1v9h-1zM660 893h1v13h-1zM661 894h1v13h-1zM662 893h1v13h-1zM663 894h1v8h-1zM664 891h1v2h-1zM664 894h1v8h-1zM665 890h1v14h-1zM666 891h1v2h-1zM666 894h1v11h-1zM667 896h1v8h-1zM668 893h1v11h-1zM669 892h1v11h-1zM670 887h1v15h-1zM671 886h1v15h-1zM672 887h1v12h-1zM673 891h1v7h-1zM674 889h1v9h-1zM675 888h1v9h-1zM676 885h1v12h-1zM677 884h1v13h-1zM678 885h1v13h-1zM679 884h1v14h-1zM680 882h1v12h-1zM680 895h1v2h-1zM681 881h1v14h-1zM682 881h1v19h-1zM683 882h1v19h-1zM684 883h1v17h-1zM685 882h1v11h-1zM685 894h1v2h-1zM686 883h1v16h-1zM687 888h1v13h-1zM688 892h1v12h-1zM689 896h1v1h-1zM689 898h1v10h-1zM690 887h1v5h-1zM690 893h1v1h-1zM690 895h1v14h-1zM691 886h1v9h-1zM691 896h1v1h-1zM691 898h1v2h-1zM691 902h1v6h-1zM692 885h1v13h-1zM693 886h1v14h-1zM694 891h1v10h-1zM695 896h1v7h-1zM696 895h1v9h-1zM697 887h1v16h-1zM698 885h1v17h-1zM699 884h1v16h-1zM700 885h1v20h-1zM701 886h1v20h-1zM702 885h1v20h-1zM703 886h1v3h-1zM703 890h1v20h-1zM704 892h1v1h-1zM704 894h1v17h-1zM705 898h1v12h-1zM706 895h1v12h-1zM707 894h1v14h-1zM708 895h1v16h-1zM709 899h1v13h-1zM710 891h1v20h-1zM711 890h1v15h-1zM711 906h1v4h-1zM712 891h1v12h-1zM713 891h1v13h-1zM714 890h1v7h-1zM714 898h1v5h-1zM715 890h1v11h-1zM716 891h1v11h-1zM717 893h1v11h-1zM718 894h1v4h-1zM718 899h1v6h-1zM719 898h1v7h-1zM720 895h1v10h-1zM721 894h1v10h-1zM722 893h1v8h-1zM723 894h1v7h-1zM724 893h1v8h-1zM725 894h1v7h-1zM726 892h1v9h-1zM727 891h1v10h-1zM728 890h1v13h-1zM729 891h1v14h-1zM730 896h1v10h-1zM731 899h1v7h-1zM732 897h1v8h-1zM733 896h1v10h-1zM734 897h1v12h-1zM735 895h1v15h-1zM736 894h1v15h-1zM737 894h1v13h-1zM738 895h1v12h-1zM739 898h1v10h-1zM740 899h1v10h-1zM741 896h1v12h-1zM742 895h1v13h-1zM743 896h1v13h-1zM744 899h1v9h-1zM745 899h1v9h-1zM746 898h1v12h-1zM747 896h1v15h-1zM748 892h1v18h-1zM749 890h1v10h-1zM749 901h1v4h-1zM749 906h1v1h-1zM749 908h1v1h-1zM750 889h1v16h-1zM751 890h1v16h-1zM752 894h1v11h-1zM753 895h1v9h-1zM754 897h1v10h-1zM755 897h1v11h-1zM756 898h1v9h-1zM757 902h1v5h-1zM758 901h1v6h-1zM759 899h1v9h-1zM760 897h1v10h-1zM761 890h1v16h-1zM762 889h1v16h-1zM763 890h1v19h-1zM764 893h1v1h-1zM764 895h1v15h-1zM765 896h1v14h-1zM766 895h1v9h-1zM766 905h1v2h-1zM766 908h1v1h-1zM767 890h1v13h-1zM768 889h1v18h-1zM769 890h1v18h-1zM770 893h1v16h-1zM771 894h1v14h-1zM772 895h1v12h-1zM773 895h1v11h-1zM774 891h1v11h-1zM775 890h1v10h-1zM775 901h1v5h-1zM776 891h1v16h-1zM777 896h1v11h-1zM778 891h1v17h-1zM779 888h1v17h-1zM779 906h1v1h-1zM780 887h1v15h-1zM781 888h1v15h-1zM782 891h1v14h-1zM783 892h1v14h-1zM784 899h1v8h-1zM785 899h1v9h-1zM786 899h1v12h-1zM787 897h1v15h-1zM788 896h1v15h-1zM789 897h1v13h-1zM790 897h1v12h-1zM791 898h1v10h-1zM792 900h1v8h-1zM793 900h1v8h-1zM794 901h1v10h-1zM795 902h1v10h-1zM796 898h1v13h-1zM797 895h1v15h-1zM798 894h1v13h-1zM799 895h1v11h-1zM800 899h1v7h-1zM801 898h1v9h-1zM802 899h1v7h-1zM803 896h1v10h-1zM804 895h1v10h-1zM805 890h1v13h-1zM806 889h1v16h-1zM807 890h1v8h-1zM807 899h1v7h-1zM808 899h1v9h-1zM809 891h1v18h-1zM810 890h1v18h-1zM811 891h1v16h-1zM812 900h1v11h-1zM813 901h1v12h-1zM814 900h1v1h-1zM814 902h1v12h-1zM815 897h1v16h-1zM816 896h1v16h-1zM817 897h1v16h-1zM818 898h1v8h-1zM818 907h1v6h-1zM819 897h1v16h-1zM820 898h1v14h-1zM821 905h1v5h-1zM822 903h1v8h-1zM823 902h1v11h-1zM824 903h1v11h-1zM825 901h1v12h-1zM826 900h1v14h-1zM827 901h1v14h-1zM828 906h1v8h-1zM829 905h1v11h-1zM830 901h1v16h-1zM831 897h1v19h-1zM832 896h1v19h-1zM833 897h1v19h-1zM834 903h1v1h-1zM834 905h1v11h-1zM835 900h1v15h-1zM836 899h1v19h-1zM837 900h1v19h-1zM838 905h1v14h-1zM839 906h1v8h-1zM839 915h1v1h-1zM839 917h1v1h-1zM840 902h1v11h-1zM841 901h1v12h-1zM842 902h1v12h-1zM843 905h1v9h-1zM844 901h1v14h-1zM845 900h1v15h-1zM846 901h1v13h-1zM847 902h1v1h-1zM847 904h1v9h-1zM848 905h1v6h-1zM849 903h1v7h-1zM850 901h1v7h-1zM851 900h1v11h-1zM852 901h1v11h-1zM853 901h1v11h-1zM854 900h1v14h-1zM855 901h1v14h-1zM856 901h1v13h-1zM857 901h1v12h-1zM858 902h1v12h-1zM859 903h1v11h-1zM860 901h1v12h-1zM861 900h1v12h-1zM862 901h1v10h-1zM863 902h1v10h-1zM864 905h1v8h-1zM865 901h1v12h-1zM866 900h1v12h-1zM867 900h1v12h-1zM868 901h1v6h-1zM868 908h1v7h-1zM869 906h1v10h-1zM870 903h1v12h-1zM871 902h1v12h-1zM872 898h1v3h-1zM872 902h1v13h-1zM873 897h1v18h-1zM874 897h1v17h-1zM875 898h1v1h-1zM875 900h1v4h-1zM875 905h1v8h-1zM876 907h1v7h-1zM877 900h1v13h-1zM878 899h1v13h-1zM879 898h1v14h-1zM880 897h1v14h-1zM881 898h1v12h-1zM882 899h1v13h-1zM883 900h1v13h-1zM884 904h1v10h-1zM885 903h1v11h-1zM886 904h1v11h-1zM887 904h1v10h-1zM888 905h1v9h-1zM889 906h1v9h-1zM890 907h1v9h-1zM891 908h1v9h-1zM892 907h1v10h-1zM893 908h1v10h-1zM894 906h1v3h-1zM894 910h1v9h-1zM895 905h1v13h-1zM896 900h1v15h-1zM897 899h1v14h-1zM898 898h1v14h-1zM899 899h1v1h-1zM899 901h1v15h-1zM900 905h1v12h-1zM901 906h1v10h-1zM902 905h1v9h-1zM903 904h1v8h-1zM904 905h1v8h-1zM905 900h1v13h-1zM906 897h1v15h-1zM907 896h1v13h-1zM908 897h1v2h-1zM908 900h1v11h-1zM909 901h1v14h-1zM910 905h1v11h-1zM911 902h1v14h-1zM912 901h1v14h-1zM913 900h1v13h-1zM914 901h1v11h-1zM915 904h1v8h-1zM916 903h1v9h-1zM917 904h1v11h-1zM918 904h1v12h-1zM919 904h1v11h-1zM920 905h1v9h-1zM921 905h1v7h-1zM922 904h1v8h-1zM923 905h1v8h-1zM924 904h1v10h-1zM925 903h1v10h-1zM926 902h1v10h-1zM927 900h1v12h-1zM928 899h1v12h-1zM929 899h1v11h-1zM930 900h1v11h-1zM931 902h1v8h-1zM932 903h1v12h-1zM933 903h1v13h-1zM934 902h1v15h-1zM935 901h1v9h-1zM935 911h1v5h-1zM936 902h1v7h-1zM937 902h1v9h-1zM938 901h1v18h-1zM939 902h1v18h-1zM940 905h1v16h-1zM941 904h1v12h-1zM941 917h1v3h-1zM942 905h1v7h-1zM943 906h1v9h-1zM944 905h1v11h-1zM945 904h1v13h-1zM946 904h1v8h-1zM946 913h1v3h-1zM947 905h1v10h-1zM948 903h1v13h-1zM949 902h1v13h-1zM950 902h1v10h-1zM951 903h1v10h-1zM952 906h1v8h-1zM953 907h1v8h-1zM954 906h1v8h-1zM955 907h1v7h-1zM956 908h1v9h-1zM957 910h1v8h-1zM958 910h1v7h-1zM959 909h1v9h-1zM960 910h1v9h-1zM961 909h1v9h-1zM962 907h1v11h-1zM963 906h1v12h-1zM964 907h1v12h-1zM965 903h1v17h-1zM966 902h1v17h-1zM967 901h1v9h-1zM968 900h1v10h-1zM969 899h1v12h-1zM970 900h1v2h-1zM970 903h1v9h-1zM971 902h1v11h-1zM972 903h1v11h-1zM973 904h1v10h-1zM974 899h1v14h-1zM975 898h1v12h-1zM976 899h1v18h-1zM977 905h1v13h-1zM978 903h1v14h-1zM979 902h1v9h-1zM980 900h1v12h-1zM981 899h1v12h-1zM982 899h1v18h-1zM983 900h1v2h-1zM983 903h1v15h-1zM984 902h1v15h-1zM985 901h1v10h-1zM986 900h1v10h-1zM987 901h1v9h-1zM987 911h1v1h-1zM988 904h1v12h-1zM989 906h1v11h-1zM990 905h1v11h-1zM991 906h1v10h-1zM992 907h1v10h-1zM993 911h1v8h-1zM994 908h1v12h-1zM995 904h1v16h-1zM996 903h1v13h-1zM996 917h1v2h-1zM997 904h1v11h-1zM998 900h1v15h-1zM999 899h1v15h-1z"/>
<g font-family="'Liberation Serif',serif" font-size="15.5px" stroke-linejoin="round"><path fill="#ff0000" d="M60 939h1v2h-1zM61 937h1v2h-1zM62 935h1v2h-1zM63 932h1v3h-1zM64 930h1v2h-1zM65 927h1v3h-1zM66 925h1v2h-1zM67 923h1v2h-1zM68 920h1v3h-1zM69 918h1v2h-1zM70 916h1v2h-1zM71 913h1v3h-1zM72 911h1v2h-1zM73 909h1v2h-1zM74 906h1v3h-1zM75 904h1v2h-1zM76 901h1v3h-1zM77 899h1v2h-1zM78 897h1v2h-1zM79 894h1v3h-1zM80 892h1v2h-1zM81 890h1v2h-1zM82 887h1v3h-1zM83 885h1v2h-1zM84 882h1v3h-1zM85 880h1v2h-1zM86 878h1v2h-1zM87 875h1v3h-1zM88 873h1v2h-1zM89 871h1v2h-1zM90 868h1v3h-1zM91 866h1v2h-1zM92 864h1v2h-1zM93 861h1v3h-1zM94 859h1v2h-1zM95 856h1v3h-1zM96 854h1v2h-1zM97 852h1v2h-1zM98 849h1v3h-1zM99 847h1v2h-1zM100 845h1v2h-1zM101 842h1v3h-1zM102 840h1v2h-1zM103 838h1v2h-1zM104 835h1v3h-1zM105 833h1v2h-1zM106 830h1v3h-1zM107 828h1v2h-1zM108 826h1v2h-1zM109 824h1v2h-1z"/><text y="840" fill="#c80000" stroke="#fff" stroke-width="5.4" stroke-linecap="round"><tspan x="79.8" textLength="18.2" lengthAdjust="spacingAndGlyphs">12</tspan><tspan x="99.2" textLength="9.2" lengthAdjust="spacingAndGlyphs">%</tspan></text><text y="840" fill="#c80000" stroke="#c80000" stroke-width=".6"><tspan x="79.8" textLength="18.2" lengthAdjust="spacingAndGlyphs">12</tspan><tspan x="99.2" textLength="9.2" lengthAdjust="spacingAndGlyphs">%</tspan></text><path fill="#ff0000" d="M109 823h1v2h-1zM110 821h1v2h-1zM111 819h1v2h-1z"/><text y="835" fill="#c80000" stroke="#fff" stroke-width="5.4" stroke-linecap="round"><tspan x="81.8" textLength="18.2" lengthAdjust="spacingAndGlyphs">13</tspan><tspan x="101.2" textLength="9.2" lengthAdjust="spacingAndGlyphs">%</tspan></text><text y="835" fill="#c80000" stroke="#c80000" stroke-width=".6"><tspan x="81.8" textLength="18.2" lengthAdjust="spacingAndGlyphs">13</tspan><tspan x="101.2" textLength="9.2" lengthAdjust="spacingAndGlyphs">%</tspan></text><path fill="#ff0000" d="M111 790h1v30h-1zM112 732h1v58h-1zM113 674h1v58h-1zM114 616h1v58h-1zM115 558h1v58h-1zM116 528h1v30h-1z"/><text y="544" fill="#c80000" stroke="#fff" stroke-width="5.4" stroke-linecap="round"><tspan x="86.8" textLength="18.2" lengthAdjust="spacingAndGlyphs">44</tspan><tspan x="106.2" textLength="9.2" lengthAdjust="spacingAndGlyphs">%</tspan></text><text y="544" fill="#c80000" stroke="#c80000" stroke-width=".6"><tspan x="86.8" textLength="18.2" lengthAdjust="spacingAndGlyphs">44</tspan><tspan x="106.2" textLength="9.2" lengthAdjust="spacingAndGlyphs">%</tspan></text><path fill="#ff0000" d="M116 528h1v4h-1zM117 532h1v6h-1zM118 538h1v6h-1zM119 544h1v6h-1zM120 550h1v6h-1zM121 548h1v11h-1zM122 527h1v21h-1zM123 507h1v20h-1zM124 486h1v21h-1zM125 475h1v11h-1z"/><text y="491" fill="#c80000" stroke="#fff" stroke-width="5.4" stroke-linecap="round"><tspan x="95.8" textLength="18.2" lengthAdjust="spacingAndGlyphs">49</tspan><tspan x="115.2" textLength="9.2" lengthAdjust="spacingAndGlyphs">%</tspan></text><text y="491" fill="#c80000" stroke="#c80000" stroke-width=".6"><tspan x="95.8" textLength="18.2" lengthAdjust="spacingAndGlyphs">49</tspan><tspan x="115.2" textLength="9.2" lengthAdjust="spacingAndGlyphs">%</tspan></text><path fill="#ff0000" d="M125 471h1v5h-1zM126 461h1v10h-1zM127 452h1v9h-1zM128 443h1v9h-1zM129 433h1v10h-1zM130 428h1v5h-1z"/><text y="444" fill="#c80000" stroke="#fff" stroke-width="5.4" stroke-linecap="round"><tspan x="100.8" textLength="18.2" lengthAdjust="spacingAndGlyphs">54</tspan><tspan x="120.2" textLength="9.2" lengthAdjust="spacingAndGlyphs">%</tspan></text><text y="444" fill="#c80000" stroke="#c80000" stroke-width=".6"><tspan x="100.8" textLength="18.2" lengthAdjust="spacingAndGlyphs">54</tspan><tspan x="120.2" textLength="9.2" lengthAdjust="spacingAndGlyphs">%</tspan></text><path fill="#ff0000" d="M130 426h1v3h-1zM131 422h1v4h-1zM132 418h1v4h-1zM133 414h1v4h-1zM134 410h1v4h-1zM135 408h1v2h-1z"/><text y="424" fill="#c80000" stroke="#fff" stroke-width="5.4" stroke-linecap="round"><tspan x="105.8" textLength="18.2" lengthAdjust="spacingAndGlyphs">57</tspan><tspan x="125.2" textLength="9.2" lengthAdjust="spacingAndGlyphs">%</tspan></text><text y="424" fill="#c80000" stroke="#c80000" stroke-width=".6"><tspan x="105.8" textLength="18.2" lengthAdjust="spacingAndGlyphs">57</tspan><tspan x="125.2" textLength="9.2" lengthAdjust="spacingAndGlyphs">%</tspan></text><path fill="#ff0000" d="M135 403h1v6h-1zM136 392h1v11h-1zM137 382h1v10h-1zM138 371h1v11h-1zM139 365h1v6h-1z"/><text y="381" fill="#c80000" stroke="#fff" stroke-width="5.4" stroke-linecap="round"><tspan x="109.8" textLength="18.2" lengthAdjust="spacingAndGlyphs">60</tspan><tspan x="129.2" textLength="9.2" lengthAdjust="spacingAndGlyphs">%</tspan></text><text y="381" fill="#c80000" stroke="#c80000" stroke-width=".6"><tspan x="109.8" textLength="18.2" lengthAdjust="spacingAndGlyphs">60</tspan><tspan x="129.2" textLength="9.2" lengthAdjust="spacingAndGlyphs">%</tspan></text><path fill="#ff0000" d="M139 365h1v8h-1zM140 373h1v14h-1zM141 387h1v14h-1zM142 401h1v14h-1zM143 415h1v14h-1zM144 429h1v8h-1zM145 415h1v14h-1zM146 401h1v14h-1zM147 387h1v14h-1zM148 373h1v14h-1zM149 365h1v8h-1z"/><text y="381" fill="#c80000" stroke="#fff" stroke-width="5.4" stroke-linecap="round"><tspan x="119.8" textLength="18.2" lengthAdjust="spacingAndGlyphs">61</tspan><tspan x="139.2" textLength="9.2" lengthAdjust="spacingAndGlyphs">%</tspan></text><text y="381" fill="#c80000" stroke="#c80000" stroke-width=".6"><tspan x="119.8" textLength="18.2" lengthAdjust="spacingAndGlyphs">61</tspan><tspan x="139.2" textLength="9.2" lengthAdjust="spacingAndGlyphs">%</tspan></text><path fill="#ff0000" d="M149 359h1v7h-1zM150 346h1v13h-1zM151 333h1v13h-1zM152 321h1v12h-1zM153 308h1v13h-1zM154 301h1v7h-1z"/><text y="317" fill="#c80000" stroke="#fff" stroke-width="5.4" stroke-linecap="round"><tspan x="124.8" textLength="18.2" lengthAdjust="spacingAndGlyphs">68</tspan><tspan x="144.2" textLength="9.2" lengthAdjust="spacingAndGlyphs">%</tspan></text><text y="317" fill="#c80000" stroke="#c80000" stroke-width=".6"><tspan x="124.8" textLength="18.2" lengthAdjust="spacingAndGlyphs">68</tspan><tspan x="144.2" textLength="9.2" lengthAdjust="spacingAndGlyphs">%</tspan></text><path fill="#ff0000" d="M154 296h1v6h-1zM155 286h1v10h-1zM156 276h1v10h-1zM157 266h1v10h-1zM158 261h1v5h-1z"/><text y="277" fill="#c80000" stroke="#fff" stroke-width="5.4" stroke-linecap="round"><tspan x="128.8" textLength="18.2" lengthAdjust="spacingAndGlyphs">72</tspan><tspan x="148.2" textLength="9.2" lengthAdjust="spacingAndGlyphs">%</tspan></text><text y="277" fill="#c80000" stroke="#c80000" stroke-width=".6"><tspan x="128.8" textLength="18.2" lengthAdjust="spacingAndGlyphs">72</tspan><tspan x="148.2" textLength="9.2" lengthAdjust="spacingAndGlyphs">%</tspan></text><path fill="#ff0000" d="M163 258h1v1h-1zM161 259h2v1h-2zM159 260h2v1h-2zM158 261h1v1h-1z"/><text y="274" fill="#c80000" stroke="#fff" stroke-width="5.4" stroke-linecap="round"><tspan x="133.8" textLength="18.2" lengthAdjust="spacingAndGlyphs">72</tspan><tspan x="153.2" textLength="9.2" lengthAdjust="spacingAndGlyphs">%</tspan></text><text y="274" fill="#c80000" stroke="#c80000" stroke-width=".6"><tspan x="133.8" textLength="18.2" lengthAdjust="spacingAndGlyphs">72</tspan><tspan x="153.2" textLength="9.2" lengthAdjust="spacingAndGlyphs">%</tspan></text><path fill="#ff0000" d="M163 257h1v2h-1zM164 253h1v4h-1zM165 249h1v4h-1zM166 245h1v4h-1zM167 241h1v4h-1zM168 239h1v2h-1z"/><text y="255" fill="#c80000" stroke="#fff" stroke-width="5.4" stroke-linecap="round"><tspan x="138.8" textLength="18.2" lengthAdjust="spacingAndGlyphs">75</tspan><tspan x="158.2" textLength="9.2" lengthAdjust="spacingAndGlyphs">%</tspan></text><text y="255" fill="#c80000" stroke="#c80000" stroke-width=".6"><tspan x="138.8" textLength="18.2" lengthAdjust="spacingAndGlyphs">75</tspan><tspan x="158.2" textLength="9.2" lengthAdjust="spacingAndGlyphs">%</tspan></text><path fill="#ff0000" d="M172 236h1v1h-1zM171 237h1v1h-1zM169 238h2v1h-2zM168 239h1v1h-1z"/><text y="252" fill="#c80000" stroke="#fff" stroke-width="5.4" stroke-linecap="round"><tspan x="142.8" textLength="18.2" lengthAdjust="spacingAndGlyphs">75</tspan><tspan x="162.2" textLength="9.2" lengthAdjust="spacingAndGlyphs">%</tspan></text><text y="252" fill="#c80000" stroke="#c80000" stroke-width=".6"><tspan x="142.8" textLength="18.2" lengthAdjust="spacingAndGlyphs">75</tspan><tspan x="162.2" textLength="9.2" lengthAdjust="spacingAndGlyphs">%</tspan></text><path fill="#ff0000" d="M172 236h1v4h-1zM173 240h1v8h-1zM174 248h1v7h-1zM175 255h1v7h-1zM176 262h1v8h-1zM177 266h1v8h-1zM178 252h1v14h-1zM179 237h1v15h-1zM180 222h1v15h-1zM181 208h1v14h-1zM182 200h1v8h-1z"/><text y="216" fill="#c80000" stroke="#fff" stroke-width="5.4" stroke-linecap="round"><tspan x="152.8" textLength="18.2" lengthAdjust="spacingAndGlyphs">79</tspan><tspan x="172.2" textLength="9.2" lengthAdjust="spacingAndGlyphs">%</tspan></text><text y="216" fill="#c80000" stroke="#c80000" stroke-width=".6"><tspan x="152.8" textLength="18.2" lengthAdjust="spacingAndGlyphs">79</tspan><tspan x="172.2" textLength="9.2" lengthAdjust="spacingAndGlyphs">%</tspan></text><path fill="#ff0000" d="M182 200h1v11h-1zM183 211h1v22h-1zM184 233h1v22h-1zM185 255h1v22h-1zM186 277h1v11h-1zM187 263h1v16h-1zM188 246h1v17h-1zM189 230h1v16h-1zM190 214h1v16h-1zM191 204h1v10h-1zM192 202h1v2h-1zM193 199h1v3h-1zM194 197h1v2h-1zM195 195h1v2h-1zM196 193h1v2h-1z"/><text y="209" fill="#c80000" stroke="#fff" stroke-width="5.4" stroke-linecap="round"><tspan x="166.8" textLength="18.2" lengthAdjust="spacingAndGlyphs">80</tspan><tspan x="186.2" textLength="9.2" lengthAdjust="spacingAndGlyphs">%</tspan></text><text y="209" fill="#c80000" stroke="#c80000" stroke-width=".6"><tspan x="166.8" textLength="18.2" lengthAdjust="spacingAndGlyphs">80</tspan><tspan x="186.2" textLength="9.2" lengthAdjust="spacingAndGlyphs">%</tspan></text><path fill="#ff0000" d="M196 193h1v6h-1zM197 199h1v10h-1zM198 209h1v10h-1zM199 219h1v10h-1zM200 229h1v10h-1zM201 239h1v6h-1zM202 240h1v3h-1zM203 238h1v2h-1zM204 235h1v3h-1zM205 231h1v4h-1zM206 225h1v6h-1zM207 219h1v6h-1zM208 214h1v5h-1zM209 208h1v6h-1zM210 205h1v3h-1zM211 204h1v1h-1zM212 204h1v1h-1zM213 203h1v1h-1zM214 203h1v1h-1zM215 202h1v2h-1zM216 204h1v2h-1zM217 206h1v2h-1zM218 208h1v2h-1zM219 209h1v3h-1zM220 203h1v6h-1zM221 197h1v6h-1zM222 192h1v5h-1zM223 186h1v6h-1zM224 183h1v3h-1z"/><text y="199" fill="#c80000" stroke="#fff" stroke-width="5.4" stroke-linecap="round"><tspan x="194.8" textLength="18.2" lengthAdjust="spacingAndGlyphs">80</tspan><tspan x="214.2" textLength="9.2" lengthAdjust="spacingAndGlyphs">%</tspan></text><text y="199" fill="#c80000" stroke="#c80000" stroke-width=".6"><tspan x="194.8" textLength="18.2" lengthAdjust="spacingAndGlyphs">80</tspan><tspan x="214.2" textLength="9.2" lengthAdjust="spacingAndGlyphs">%</tspan></text><path fill="#ff0000" d="M224 183h1v3h-1zM225 186h1v4h-1zM226 190h1v4h-1zM227 194h1v4h-1zM228 198h1v4h-1zM229 201h1v4h-1zM230 195h1v6h-1zM231 189h1v6h-1zM232 183h1v6h-1zM233 180h1v3h-1z"/><text y="196" fill="#c80000" stroke="#fff" stroke-width="5.4" stroke-linecap="round"><tspan x="203.8" textLength="18.2" lengthAdjust="spacingAndGlyphs">81</tspan><tspan x="223.2" textLength="9.2" lengthAdjust="spacingAndGlyphs">%</tspan></text><text y="196" fill="#c80000" stroke="#c80000" stroke-width=".6"><tspan x="203.8" textLength="18.2" lengthAdjust="spacingAndGlyphs">81</tspan><tspan x="223.2" textLength="9.2" lengthAdjust="spacingAndGlyphs">%</tspan></text><path fill="#ff0000" d="M233 180h1v1h-1zM234 181h1v1h-1zM235 182h1v2h-1zM236 184h1v1h-1zM237 185h1v1h-1zM238 186h1v1h-1zM239 185h1v1h-1zM240 184h1v1h-1zM241 183h1v1h-1zM242 182h1v1h-1zM243 181h1v1h-1zM244 182h1v2h-1zM245 184h1v2h-1zM246 186h1v1h-1zM247 187h1v2h-1zM248 187h1v3h-1zM249 182h1v5h-1zM250 177h1v5h-1zM251 172h1v5h-1zM252 169h1v3h-1z"/><text y="185" fill="#c80000" stroke="#fff" stroke-width="5.4" stroke-linecap="round"><tspan x="222.8" textLength="18.2" lengthAdjust="spacingAndGlyphs">82</tspan><tspan x="242.2" textLength="9.2" lengthAdjust="spacingAndGlyphs">%</tspan></text><text y="185" fill="#c80000" stroke="#c80000" stroke-width=".6"><tspan x="222.8" textLength="18.2" lengthAdjust="spacingAndGlyphs">82</tspan><tspan x="242.2" textLength="9.2" lengthAdjust="spacingAndGlyphs">%</tspan></text><path fill="#ff0000" d="M252 169h1v1h-1zM253 168h1v1h-1zM254 166h1v2h-1zM255 165h1v1h-1zM256 164h1v1h-1zM257 163h1v1h-1z"/><text y="179" fill="#c80000" stroke="#fff" stroke-width="5.4" stroke-linecap="round"><tspan x="227.8" textLength="18.2" lengthAdjust="spacingAndGlyphs">83</tspan><tspan x="247.2" textLength="9.2" lengthAdjust="spacingAndGlyphs">%</tspan></text><text y="179" fill="#c80000" stroke="#c80000" stroke-width=".6"><tspan x="227.8" textLength="18.2" lengthAdjust="spacingAndGlyphs">83</tspan><tspan x="247.2" textLength="9.2" lengthAdjust="spacingAndGlyphs">%</tspan></text><path fill="#ff0000" d="M257 163h1v2h-1zM258 165h1v2h-1zM259 167h1v3h-1zM260 170h1v3h-1zM261 173h1v2h-1zM262 175h1v2h-1zM263 172h1v3h-1zM264 170h1v2h-1zM265 167h1v3h-1zM266 164h1v3h-1zM267 162h1v2h-1zM268 160h1v2h-1zM269 158h1v2h-1zM270 156h1v2h-1zM271 154h1v2h-1z"/><text y="170" fill="#c80000" stroke="#fff" stroke-width="5.4" stroke-linecap="round"><tspan x="241.8" textLength="18.2" lengthAdjust="spacingAndGlyphs">84</tspan><tspan x="261.2" textLength="9.2" lengthAdjust="spacingAndGlyphs">%</tspan></text><text y="170" fill="#c80000" stroke="#c80000" stroke-width=".6"><tspan x="241.8" textLength="18.2" lengthAdjust="spacingAndGlyphs">84</tspan><tspan x="261.2" textLength="9.2" lengthAdjust="spacingAndGlyphs">%</tspan></text><path fill="#ff0000" d="M271 154h1v7h-1zM272 161h1v12h-1zM273 173h1v12h-1zM274 185h1v12h-1zM275 197h1v12h-1zM276 209h1v6h-1zM277 201h1v9h-1zM278 193h1v8h-1zM279 184h1v9h-1zM280 179h1v5h-1zM281 178h1v1h-1zM282 177h1v1h-1zM283 177h1v1h-1zM284 176h1v1h-1zM285 175h1v1h-1zM286 173h1v2h-1zM287 171h1v2h-1zM288 169h1v2h-1zM289 167h1v2h-1zM290 166h1v1h-1zM291 165h1v1h-1zM292 163h1v2h-1zM293 162h1v1h-1zM294 161h1v1h-1zM295 160h1v1h-1zM296 161h1v2h-1zM297 163h1v1h-1zM298 164h1v2h-1zM299 166h1v3h-1zM300 169h1v4h-1zM301 173h1v4h-1zM302 177h1v4h-1zM303 181h1v4h-1zM304 184h1v4h-1zM305 176h1v8h-1zM306 168h1v8h-1zM307 160h1v8h-1zM308 152h1v8h-1zM309 148h1v4h-1z"/><text y="164" fill="#c80000" stroke="#fff" stroke-width="5.4" stroke-linecap="round"><tspan x="279.8" textLength="18.2" lengthAdjust="spacingAndGlyphs">84</tspan><tspan x="299.2" textLength="9.2" lengthAdjust="spacingAndGlyphs">%</tspan></text><text y="164" fill="#c80000" stroke="#c80000" stroke-width=".6"><tspan x="279.8" textLength="18.2" lengthAdjust="spacingAndGlyphs">84</tspan><tspan x="299.2" textLength="9.2" lengthAdjust="spacingAndGlyphs">%</tspan></text><path fill="#ff0000" d="M309 148h1v2h-1zM310 150h1v3h-1zM311 153h1v2h-1zM312 155h1v3h-1zM313 158h1v3h-1zM314 161h1v2h-1zM315 163h1v2h-1zM316 165h1v2h-1zM317 167h1v2h-1zM318 169h1v2h-1zM319 169h1v1h-1zM320 168h1v1h-1zM321 167h1v1h-1zM322 166h1v1h-1zM323 164h1v2h-1zM324 160h1v4h-1zM325 157h1v3h-1zM326 153h1v4h-1zM327 151h1v2h-1zM328 152h1v2h-1zM329 154h1v1h-1zM330 155h1v1h-1zM331 156h1v2h-1zM332 157h1v2h-1zM333 155h1v2h-1zM334 153h1v2h-1zM335 151h1v2h-1zM336 149h1v2h-1zM337 148h1v3h-1zM338 151h1v4h-1zM339 155h1v4h-1zM340 159h1v4h-1zM341 163h1v4h-1zM342 167h1v3h-1zM343 164h1v4h-1zM344 161h1v3h-1zM345 157h1v4h-1zM346 155h1v3h-1zM347 158h1v5h-1zM348 163h1v6h-1zM349 169h1v5h-1zM350 174h1v5h-1zM351 179h1v3h-1zM352 181h1v1h-1zM353 181h1v1h-1zM354 182h1v1h-1zM355 182h1v1h-1zM356 179h1v4h-1zM357 172h1v7h-1zM358 166h1v6h-1zM359 159h1v7h-1zM360 155h1v4h-1zM361 157h1v2h-1zM362 159h1v3h-1zM363 162h1v2h-1zM364 164h1v2h-1zM365 166h1v2h-1zM366 167h1v1h-1zM367 167h1v1h-1zM368 166h1v1h-1zM369 166h1v1h-1zM370 163h1v4h-1zM371 156h1v7h-1zM372 148h1v8h-1zM373 141h1v7h-1zM374 137h1v4h-1z"/><text y="153" fill="#c80000" stroke="#fff" stroke-width="5.4" stroke-linecap="round"><tspan x="344.8" textLength="18.2" lengthAdjust="spacingAndGlyphs">85</tspan><tspan x="364.2" textLength="9.2" lengthAdjust="spacingAndGlyphs">%</tspan></text><text y="153" fill="#c80000" stroke="#c80000" stroke-width=".6"><tspan x="344.8" textLength="18.2" lengthAdjust="spacingAndGlyphs">85</tspan><tspan x="364.2" textLength="9.2" lengthAdjust="spacingAndGlyphs">%</tspan></text><path fill="#ff0000" d="M374 137h1v1h-1zM375 138h1v2h-1zM376 140h1v2h-1zM377 142h1v2h-1zM378 144h1v2h-1zM379 146h1v2h-1zM380 148h1v2h-1zM381 150h1v2h-1zM382 152h1v2h-1zM383 154h1v2h-1zM384 156h1v1h-1zM385 157h1v2h-1zM386 159h1v2h-1zM387 161h1v2h-1zM388 163h1v2h-1zM389 164h1v2h-1zM390 160h1v4h-1zM391 157h1v3h-1zM392 153h1v4h-1zM393 151h1v2h-1zM394 149h1v2h-1zM395 148h1v1h-1zM396 147h1v1h-1zM397 145h1v2h-1zM398 144h1v1h-1zM399 142h1v2h-1zM400 140h1v2h-1zM401 138h1v2h-1zM402 136h1v2h-1zM403 134h1v2h-1zM404 132h1v2h-1zM405 130h1v2h-1zM406 128h1v2h-1zM407 127h1v1h-1z"/><text y="143" fill="#c80000" stroke="#fff" stroke-width="5.4" stroke-linecap="round"><tspan x="377.8" textLength="18.2" lengthAdjust="spacingAndGlyphs">86</tspan><tspan x="397.2" textLength="9.2" lengthAdjust="spacingAndGlyphs">%</tspan></text><text y="143" fill="#c80000" stroke="#c80000" stroke-width=".6"><tspan x="377.8" textLength="18.2" lengthAdjust="spacingAndGlyphs">86</tspan><tspan x="397.2" textLength="9.2" lengthAdjust="spacingAndGlyphs">%</tspan></text><path fill="#ff0000" d="M407 127h1v2h-1zM408 129h1v2h-1zM409 131h1v2h-1zM410 133h1v2h-1zM411 135h1v2h-1zM412 137h1v3h-1zM413 140h1v6h-1zM414 146h1v6h-1zM415 152h1v5h-1zM416 157h1v6h-1zM417 163h1v3h-1zM418 159h1v4h-1zM419 155h1v4h-1zM420 151h1v4h-1zM421 147h1v4h-1zM422 143h1v4h-1zM423 140h1v3h-1zM424 137h1v3h-1zM425 133h1v4h-1zM426 131h1v2h-1zM427 133h1v2h-1zM428 135h1v3h-1zM429 138h1v2h-1zM430 140h1v2h-1zM431 142h1v3h-1zM432 145h1v2h-1zM433 147h1v3h-1zM434 150h1v3h-1zM435 153h1v2h-1zM436 154h1v3h-1zM437 149h1v5h-1zM438 145h1v4h-1zM439 140h1v5h-1zM440 137h1v3h-1zM441 140h1v4h-1zM442 144h1v4h-1zM443 148h1v4h-1zM444 152h1v4h-1zM445 156h1v3h-1zM446 155h1v2h-1zM447 152h1v3h-1zM448 150h1v2h-1zM449 148h1v2h-1zM450 146h1v2h-1zM451 148h1v4h-1zM452 152h1v3h-1zM453 155h1v4h-1zM454 157h1v4h-1zM455 151h1v6h-1zM456 145h1v6h-1zM457 139h1v6h-1zM458 133h1v6h-1zM459 130h1v3h-1zM460 132h1v2h-1zM461 134h1v2h-1zM462 136h1v2h-1zM463 138h1v2h-1zM464 140h1v3h-1zM465 143h1v5h-1zM466 148h1v6h-1zM467 154h1v5h-1zM468 159h1v3h-1zM469 161h1v1h-1zM470 162h1v1h-1zM471 162h1v1h-1zM472 163h1v1h-1zM473 161h1v3h-1zM474 157h1v4h-1zM475 152h1v5h-1zM476 148h1v4h-1zM477 144h1v4h-1zM478 141h1v3h-1zM479 142h1v1h-1zM480 143h1v1h-1zM481 144h1v1h-1zM482 145h1v1h-1zM483 146h1v3h-1zM484 149h1v4h-1zM485 153h1v4h-1zM486 157h1v4h-1zM487 161h1v3h-1zM488 159h1v3h-1zM489 156h1v3h-1zM490 153h1v3h-1zM491 150h1v3h-1zM492 148h1v2h-1zM493 148h1v1h-1zM494 149h1v1h-1zM495 149h1v1h-1zM496 150h1v1h-1zM497 150h1v4h-1zM498 154h1v6h-1zM499 160h1v7h-1zM500 167h1v6h-1zM501 173h1v4h-1z"/><text y="192" fill="#c80000" stroke="#fff" stroke-width="5.4" stroke-linecap="round"><tspan x="471.8" textLength="18.2" lengthAdjust="spacingAndGlyphs">81</tspan><tspan x="491.2" textLength="9.2" lengthAdjust="spacingAndGlyphs">%</tspan></text><text y="192" fill="#c80000" stroke="#c80000" stroke-width=".6"><tspan x="471.8" textLength="18.2" lengthAdjust="spacingAndGlyphs">81</tspan><tspan x="491.2" textLength="9.2" lengthAdjust="spacingAndGlyphs">%</tspan></text><path fill="#ff0000" d="M501 172h1v5h-1zM502 164h1v8h-1zM503 156h1v8h-1zM504 148h1v8h-1zM505 140h1v8h-1zM506 136h1v4h-1zM507 135h1v1h-1zM508 133h1v2h-1zM509 132h1v1h-1zM510 131h1v1h-1zM511 130h1v1h-1zM512 129h1v1h-1zM513 127h1v2h-1zM514 126h1v1h-1zM515 125h1v1h-1z"/><text y="141" fill="#c80000" stroke="#fff" stroke-width="5.4" stroke-linecap="round"><tspan x="485.8" textLength="18.2" lengthAdjust="spacingAndGlyphs">87</tspan><tspan x="505.2" textLength="9.2" lengthAdjust="spacingAndGlyphs">%</tspan></text><text y="141" fill="#c80000" stroke="#c80000" stroke-width=".6"><tspan x="485.8" textLength="18.2" lengthAdjust="spacingAndGlyphs">87</tspan><tspan x="505.2" textLength="9.2" lengthAdjust="spacingAndGlyphs">%</tspan></text><path fill="#ff0000" d="M515 125h1v1h-1zM516 125h1v1h-1zM517 125h1v1h-1zM518 126h1v1h-1zM519 126h1v1h-1zM520 126h1v1h-1zM521 126h1v1h-1zM522 126h1v1h-1zM523 126h1v1h-1zM524 126h1v1h-1zM525 126h1v2h-1zM526 128h1v3h-1zM527 131h1v4h-1zM528 135h1v3h-1zM529 138h1v3h-1zM530 141h1v4h-1zM531 145h1v4h-1zM532 149h1v4h-1zM533 153h1v4h-1zM534 157h1v2h-1zM535 155h1v2h-1zM536 153h1v2h-1zM537 151h1v2h-1zM538 149h1v2h-1zM539 148h1v2h-1zM540 150h1v4h-1zM541 154h1v4h-1zM542 158h1v3h-1zM543 161h1v4h-1zM544 165h1v2h-1zM545 161h1v4h-1zM546 158h1v3h-1zM547 154h1v4h-1zM548 151h1v3h-1zM549 148h1v3h-1zM550 145h1v3h-1zM551 142h1v3h-1zM552 139h1v3h-1zM553 137h1v2h-1zM554 135h1v2h-1zM555 134h1v1h-1zM556 133h1v1h-1zM557 131h1v2h-1zM558 129h1v2h-1zM559 126h1v3h-1zM560 123h1v3h-1zM561 120h1v3h-1zM562 118h1v2h-1z"/><text y="134" fill="#c80000" stroke="#fff" stroke-width="5.4" stroke-linecap="round"><tspan x="532.8" textLength="18.2" lengthAdjust="spacingAndGlyphs">87</tspan><tspan x="552.2" textLength="9.2" lengthAdjust="spacingAndGlyphs">%</tspan></text><text y="134" fill="#c80000" stroke="#c80000" stroke-width=".6"><tspan x="532.8" textLength="18.2" lengthAdjust="spacingAndGlyphs">87</tspan><tspan x="552.2" textLength="9.2" lengthAdjust="spacingAndGlyphs">%</tspan></text><path fill="#ff0000" d="M562 118h1v4h-1zM563 122h1v6h-1zM564 128h1v7h-1zM565 135h1v6h-1zM566 141h1v6h-1zM567 147h1v4h-1zM568 148h1v2h-1zM569 146h1v2h-1zM570 145h1v1h-1zM571 143h1v2h-1zM572 142h1v1h-1zM573 142h1v1h-1zM574 141h1v1h-1zM575 141h1v1h-1zM576 140h1v1h-1zM577 140h1v1h-1zM578 141h1v1h-1zM579 142h1v2h-1zM580 144h1v1h-1zM581 143h1v3h-1zM582 139h1v4h-1zM583 135h1v4h-1zM584 131h1v4h-1zM585 127h1v4h-1zM586 125h1v2h-1zM587 126h1v2h-1zM588 128h1v2h-1zM589 130h1v1h-1zM590 131h1v2h-1zM591 133h1v1h-1zM592 134h1v2h-1zM593 136h1v2h-1zM594 138h1v2h-1zM595 140h1v1h-1zM596 139h1v1h-1zM597 138h1v1h-1zM598 138h1v1h-1zM599 137h1v1h-1zM600 136h1v1h-1zM601 137h1v2h-1zM602 139h1v2h-1zM603 141h1v2h-1zM604 143h1v2h-1zM605 144h1v2h-1zM606 142h1v2h-1zM607 140h1v2h-1zM608 138h1v2h-1zM609 137h1v2h-1zM610 139h1v4h-1zM611 143h1v4h-1zM612 147h1v4h-1zM613 151h1v4h-1zM614 155h1v2h-1zM615 155h1v1h-1zM616 154h1v1h-1zM617 154h1v1h-1zM618 153h1v1h-1zM619 151h1v2h-1zM620 147h1v4h-1zM621 143h1v4h-1zM622 139h1v4h-1zM623 135h1v4h-1zM624 133h1v2h-1zM625 132h1v1h-1zM626 130h1v2h-1zM627 129h1v1h-1zM628 128h1v1h-1zM629 128h1v1h-1zM630 129h1v1h-1zM631 129h1v1h-1zM632 130h1v1h-1zM633 130h1v3h-1zM634 133h1v4h-1zM635 137h1v5h-1zM636 142h1v4h-1zM637 146h1v4h-1zM638 150h1v3h-1zM639 146h1v4h-1zM640 142h1v4h-1zM641 138h1v4h-1zM642 134h1v4h-1zM643 130h1v4h-1zM644 127h1v3h-1zM645 124h1v3h-1zM646 120h1v4h-1zM647 118h1v2h-1z"/><text y="134" fill="#c80000" stroke="#fff" stroke-width="5.4" stroke-linecap="round"><tspan x="617.8" textLength="18.2" lengthAdjust="spacingAndGlyphs">87</tspan><tspan x="637.2" textLength="9.2" lengthAdjust="spacingAndGlyphs">%</tspan></text><text y="134" fill="#c80000" stroke="#c80000" stroke-width=".6"><tspan x="617.8" textLength="18.2" lengthAdjust="spacingAndGlyphs">87</tspan><tspan x="637.2" textLength="9.2" lengthAdjust="spacingAndGlyphs">%</tspan></text><path fill="#ff0000" d="M647 118h1v1h-1zM648 119h1v2h-1zM649 121h1v2h-1zM650 123h1v1h-1zM651 124h1v2h-1zM652 126h1v2h-1zM653 128h1v3h-1zM654 131h1v2h-1zM655 133h1v3h-1zM656 136h1v2h-1zM657 138h1v2h-1zM658 140h1v1h-1zM659 141h1v1h-1zM660 142h1v2h-1zM661 142h1v3h-1zM662 138h1v4h-1zM663 134h1v4h-1zM664 130h1v4h-1zM665 126h1v4h-1zM666 124h1v2h-1zM667 124h1v1h-1zM668 124h1v1h-1zM669 124h1v1h-1zM670 124h1v1h-1zM671 124h1v1h-1zM672 124h1v1h-1zM673 123h1v1h-1zM674 123h1v1h-1zM675 122h1v2h-1zM676 124h1v3h-1zM677 127h1v3h-1zM678 130h1v2h-1zM679 132h1v3h-1zM680 135h1v2h-1zM681 132h1v3h-1zM682 128h1v4h-1zM683 125h1v3h-1zM684 122h1v3h-1zM685 120h1v4h-1zM686 124h1v7h-1zM687 131h1v8h-1zM688 139h1v7h-1zM689 146h1v4h-1zM690 146h1v2h-1zM691 144h1v2h-1zM692 142h1v2h-1zM693 140h1v2h-1zM694 138h1v2h-1zM695 139h1v1h-1zM696 140h1v1h-1zM697 140h1v1h-1zM698 141h1v1h-1zM699 141h1v2h-1zM700 139h1v2h-1zM701 136h1v3h-1zM702 134h1v2h-1zM703 131h1v3h-1zM704 129h1v2h-1zM705 127h1v2h-1zM706 125h1v2h-1zM707 123h1v2h-1zM708 122h1v3h-1zM709 125h1v4h-1zM710 129h1v4h-1zM711 133h1v4h-1zM712 137h1v4h-1zM713 141h1v3h-1zM714 140h1v2h-1zM715 137h1v3h-1zM716 134h1v3h-1zM717 132h1v2h-1zM718 130h1v2h-1zM719 129h1v1h-1zM720 128h1v1h-1zM721 127h1v1h-1zM722 126h1v1h-1zM723 127h1v2h-1zM724 129h1v1h-1zM725 130h1v1h-1zM726 131h1v2h-1zM727 133h1v1h-1zM728 132h1v1h-1zM729 130h1v2h-1zM730 129h1v1h-1zM731 128h1v1h-1zM732 127h1v1h-1zM733 128h1v1h-1zM734 128h1v1h-1zM735 129h1v1h-1zM736 130h1v1h-1zM737 128h1v2h-1zM738 126h1v2h-1zM739 125h1v1h-1zM740 123h1v2h-1zM741 122h1v1h-1z"/><text y="138" fill="#c80000" stroke="#fff" stroke-width="5.4" stroke-linecap="round"><tspan x="711.8" textLength="18.2" lengthAdjust="spacingAndGlyphs">87</tspan><tspan x="731.2" textLength="9.2" lengthAdjust="spacingAndGlyphs">%</tspan></text><text y="138" fill="#c80000" stroke="#c80000" stroke-width=".6"><tspan x="711.8" textLength="18.2" lengthAdjust="spacingAndGlyphs">87</tspan><tspan x="731.2" textLength="9.2" lengthAdjust="spacingAndGlyphs">%</tspan></text><path fill="#ff0000" d="M741 122h1v1h-1zM742 123h1v2h-1zM743 125h1v1h-1zM744 126h1v1h-1zM745 127h1v2h-1zM746 129h1v1h-1zM747 127h1v2h-1zM748 125h1v2h-1zM749 123h1v2h-1zM750 122h1v4h-1zM751 126h1v6h-1zM752 132h1v7h-1zM753 139h1v6h-1zM754 145h1v6h-1zM755 151h1v4h-1zM756 146h1v6h-1zM757 140h1v6h-1zM758 134h1v6h-1zM759 128h1v6h-1zM760 125h1v3h-1zM761 125h1v1h-1zM762 125h1v1h-1zM763 126h1v1h-1zM764 126h1v1h-1zM765 126h1v2h-1zM766 128h1v3h-1zM767 131h1v3h-1zM768 134h1v3h-1zM769 137h1v2h-1zM770 135h1v2h-1zM771 132h1v3h-1zM772 129h1v3h-1zM773 127h1v2h-1zM774 125h1v3h-1zM775 128h1v6h-1zM776 134h1v6h-1zM777 140h1v5h-1zM778 145h1v6h-1zM779 150h1v4h-1zM780 142h1v8h-1zM781 135h1v7h-1zM782 127h1v8h-1zM783 123h1v4h-1zM784 123h1v1h-1zM785 124h1v1h-1zM786 124h1v1h-1zM787 125h1v1h-1zM788 125h1v3h-1zM789 128h1v4h-1zM790 132h1v5h-1zM791 137h1v4h-1zM792 141h1v4h-1zM793 145h1v3h-1zM794 143h1v3h-1zM795 141h1v2h-1zM796 138h1v3h-1zM797 135h1v3h-1zM798 133h1v2h-1zM799 130h1v3h-1zM800 128h1v2h-1zM801 126h1v2h-1zM802 124h1v2h-1zM803 126h1v3h-1zM804 129h1v4h-1zM805 133h1v3h-1zM806 136h1v3h-1zM807 139h1v2h-1zM808 139h1v1h-1zM809 138h1v1h-1zM810 137h1v1h-1zM811 136h1v1h-1zM812 135h1v1h-1zM813 133h1v2h-1zM814 132h1v1h-1zM815 130h1v2h-1zM816 129h1v1h-1zM817 129h1v1h-1zM818 130h1v1h-1zM819 130h1v1h-1zM820 131h1v1h-1zM821 131h1v1h-1zM822 129h1v2h-1zM823 127h1v2h-1zM824 126h1v1h-1zM825 124h1v2h-1zM826 123h1v1h-1zM827 123h1v1h-1zM828 123h1v1h-1zM829 124h1v1h-1zM830 124h1v1h-1zM831 125h1v1h-1zM832 126h1v1h-1zM833 127h1v1h-1zM834 128h1v1h-1zM835 129h1v1h-1z"/><text y="145" fill="#c80000" stroke="#fff" stroke-width="5.4" stroke-linecap="round"><tspan x="805.8" textLength="18.2" lengthAdjust="spacingAndGlyphs">86</tspan><tspan x="825.2" textLength="9.2" lengthAdjust="spacingAndGlyphs">%</tspan></text><text y="145" fill="#c80000" stroke="#c80000" stroke-width=".6"><tspan x="805.8" textLength="18.2" lengthAdjust="spacingAndGlyphs">86</tspan><tspan x="825.2" textLength="9.2" lengthAdjust="spacingAndGlyphs">%</tspan></text><path fill="#ff0000" d="M877 119h1v1h-1zM858 120h2v1h-2zM877 120h2v1h-2zM910 120h2v1h-2zM919 120h4v1h-4zM856 121h2v1h-2zM859 121h1v1h-1zM876 121h1v1h-1zM878 121h1v1h-1zM909 121h1v1h-1zM912 121h2v1h-2zM917 121h2v1h-2zM923 121h3v1h-3zM852 122h4v1h-4zM860 122h1v1h-1zM876 122h1v1h-1zM879 122h1v1h-1zM908 122h1v1h-1zM914 122h3v1h-3zM926 122h2v1h-2zM844 123h8v1h-8zM860 123h1v1h-1zM868 123h1v1h-1zM875 123h1v1h-1zM880 123h1v1h-1zM887 123h1v1h-1zM896 123h1v1h-1zM908 123h1v1h-1zM928 123h2v1h-2zM843 124h1v1h-1zM861 124h1v1h-1zM867 124h1v1h-1zM869 124h1v1h-1zM875 124h1v1h-1zM881 124h1v1h-1zM885 124h2v1h-2zM888 124h1v1h-1zM895 124h1v1h-1zM897 124h1v1h-1zM907 124h1v1h-1zM843 125h1v1h-1zM861 125h1v1h-1zM867 125h1v1h-1zM870 125h1v1h-1zM875 125h1v1h-1zM881 125h1v1h-1zM883 125h2v1h-2zM889 125h1v1h-1zM894 125h1v1h-1zM898 125h1v1h-1zM906 125h1v1h-1zM842 126h1v1h-1zM861 126h1v1h-1zM866 126h1v1h-1zM870 126h1v1h-1zM874 126h1v1h-1zM882 126h1v1h-1zM889 126h1v1h-1zM893 126h1v1h-1zM899 126h1v1h-1zM904 126h2v1h-2zM841 127h1v1h-1zM862 127h1v1h-1zM865 127h1v1h-1zM871 127h1v1h-1zM874 127h1v1h-1zM890 127h1v1h-1zM892 127h1v1h-1zM900 127h1v1h-1zM902 127h2v1h-2zM841 128h1v1h-1zM862 128h1v1h-1zM864 128h1v1h-1zM872 128h2v1h-2zM891 128h1v1h-1zM901 128h1v1h-1zM835 129h6v1h-6zM863 129h2v1h-2zM873 129h1v1h-1zM863 130h1v1h-1z"/><text y="139" fill="#c80000" stroke="#fff" stroke-width="5.4" stroke-linecap="round"><tspan x="899.8" textLength="18.2" lengthAdjust="spacingAndGlyphs">87</tspan><tspan x="919.2" textLength="9.2" lengthAdjust="spacingAndGlyphs">%</tspan></text><text y="139" fill="#c80000" stroke="#c80000" stroke-width=".6"><tspan x="899.8" textLength="18.2" lengthAdjust="spacingAndGlyphs">87</tspan><tspan x="919.2" textLength="9.2" lengthAdjust="spacingAndGlyphs">%</tspan></text><path fill="#ff0000" d="M971 120h1v1h-1zM970 121h1v1h-1zM972 121h2v1h-2zM995 121h1v1h-1zM938 122h6v1h-6zM961 122h2v1h-2zM970 122h1v1h-1zM974 122h2v1h-2zM994 122h1v1h-1zM996 122h1v1h-1zM929 123h3v1h-3zM936 123h2v1h-2zM944 123h1v1h-1zM953 123h3v1h-3zM959 123h2v1h-2zM963 123h1v1h-1zM969 123h1v1h-1zM976 123h6v1h-6zM993 123h1v1h-1zM997 123h2v1h-2zM932 124h4v1h-4zM945 124h2v1h-2zM951 124h2v1h-2zM956 124h3v1h-3zM964 124h2v1h-2zM968 124h1v1h-1zM982 124h2v1h-2zM992 124h1v1h-1zM999 124h1v1h-1zM947 125h1v1h-1zM949 125h2v1h-2zM966 125h1v1h-1zM968 125h1v1h-1zM984 125h1v1h-1zM991 125h1v1h-1zM948 126h1v1h-1zM967 126h1v1h-1zM985 126h6v1h-6z"/>
<text y="29" fill="#c80000" stroke="#fff" stroke-width="5.4" stroke-linecap="round"><tspan x="10.9" textLength="32.4" lengthAdjust="spacingAndGlyphs">86.6</tspan><tspan x="44.5" textLength="10" lengthAdjust="spacingAndGlyphs">%</tspan></text><text y="29" fill="#c80000" stroke="#c80000" stroke-width=".6"><tspan x="10.9" textLength="32.4" lengthAdjust="spacingAndGlyphs">86.6</tspan><tspan x="44.5" textLength="10" lengthAdjust="spacingAndGlyphs">%</tspan></text></g></svg></body></html>
